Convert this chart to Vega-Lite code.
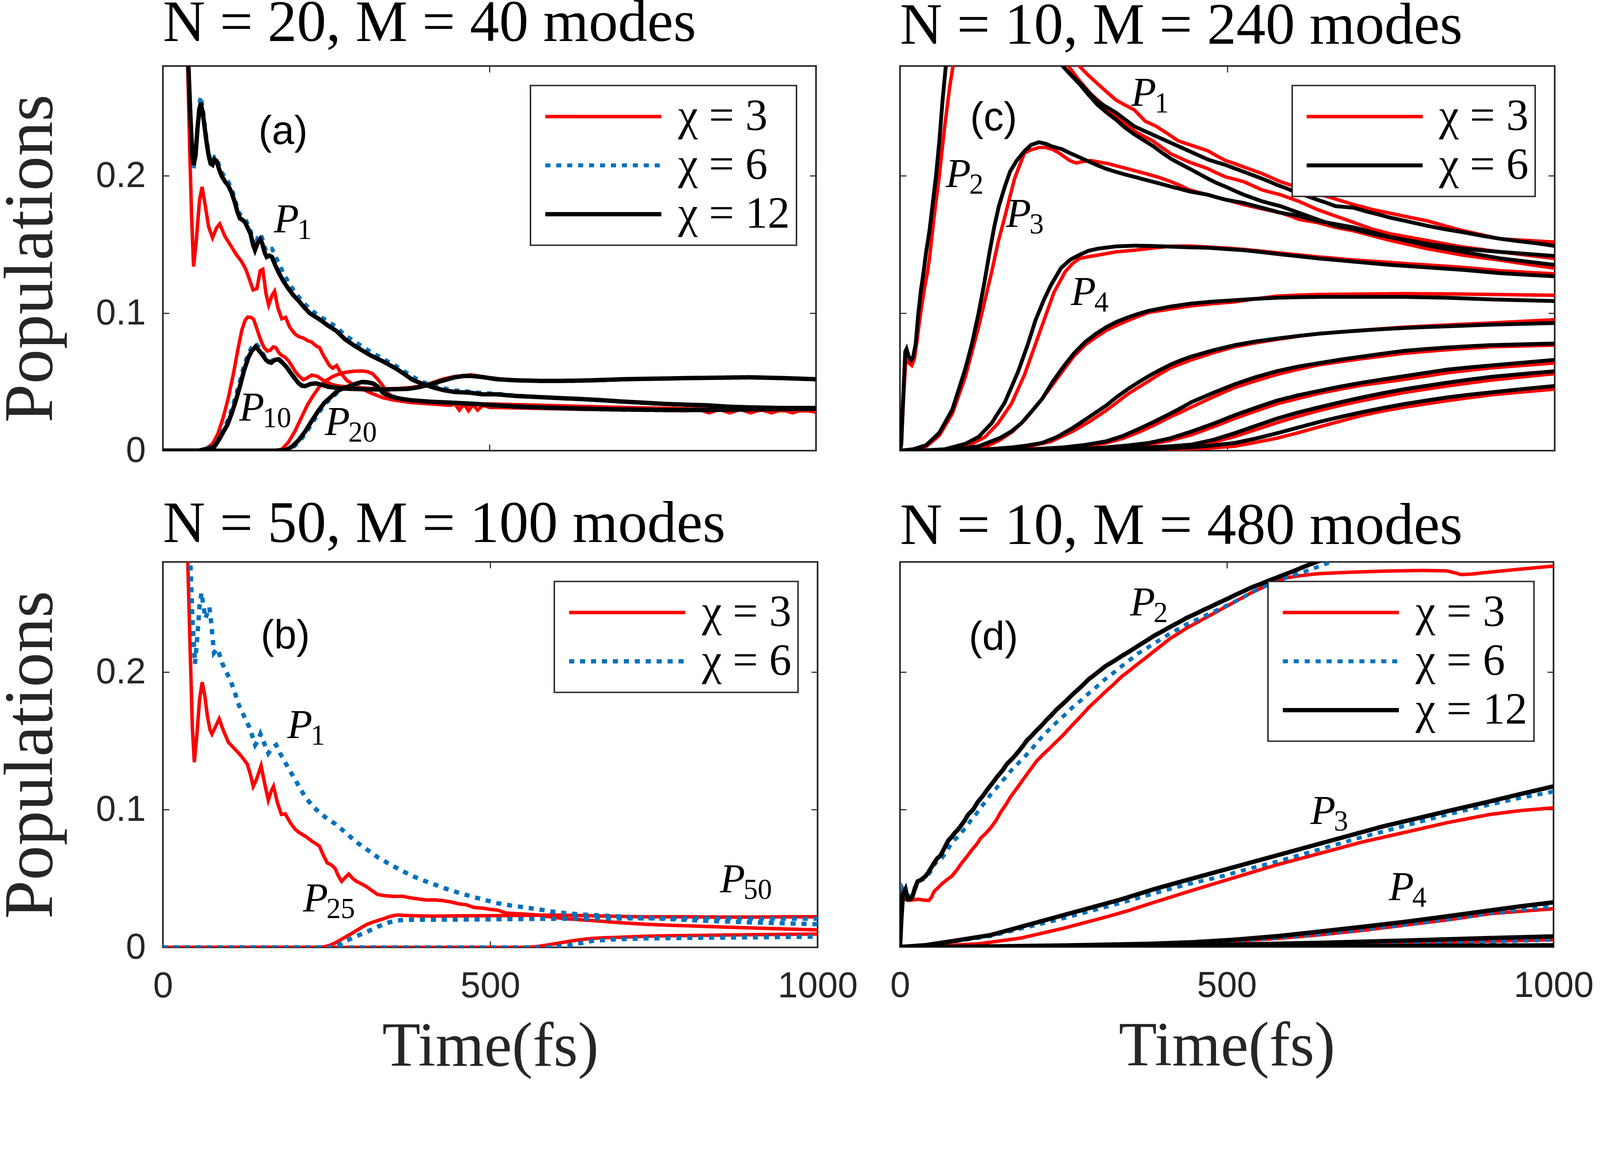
{
  "$schema": "https://vega.github.io/schema/vega-lite/v6.json",
  "background": "white",
  "padding": {"left": -12, "top": -18, "right": 0, "bottom": 0},
  "config": {
    "view": {"stroke": "#262626", "strokeWidth": 4.2},
    "axis": {"grid": false, "domain": false, "ticks": true, "tickSize": -16, "tickWidth": 2.8, "tickColor": "#262626", "labelFlush": false,
      "labelFont": "Liberation Sans", "labelFontSize": 92, "labelColor": "#262626", "labelLimit": 400,
      "titleFont": "Liberation Serif", "titleFontWeight": "normal", "titleColor": "#262626"},
    "axisX": {"labelPadding": 70, "titleFontSize": 160, "titlePadding": 31},
    "axisY": {"labelPadding": 60, "titleFontSize": 178, "titlePadding": 76},
    "title": {"font": "Liberation Serif", "fontSize": 150, "fontWeight": "normal", "anchor": "start", "frame": "group", "color": "#000000"},
    "legend": {"strokeWidth": 3.7}
  },
  "datasets": {
    "labs": [
      {"p": "a", "t": 170, "v": 0.159, "s": "1"},
      {"p": "a", "t": 117, "v": 0.022, "s": "10"},
      {"p": "a", "t": 248, "v": 0.0114, "s": "20"},
      {"p": "b", "t": 190, "v": 0.152, "s": "1"},
      {"p": "b", "t": 214, "v": 0.026, "s": "25"},
      {"p": "b", "t": 851, "v": 0.04, "s": "50"},
      {"p": "c", "t": 353, "v": 0.251, "s": "1"},
      {"p": "c", "t": 70, "v": 0.192, "s": "2"},
      {"p": "c", "t": 162, "v": 0.163, "s": "3"},
      {"p": "c", "t": 261, "v": 0.106, "s": "4"},
      {"p": "d", "t": 352, "v": 0.241, "s": "2"},
      {"p": "d", "t": 628, "v": 0.0894, "s": "3"},
      {"p": "d", "t": 748, "v": 0.034, "s": "4"}
    ],
    "tags": [
      {"p": "a", "t": 184, "v": 0.232, "txt": "(a)"},
      {"p": "b", "t": 187, "v": 0.226, "txt": "(b)"},
      {"p": "c", "t": 143, "v": 0.242, "txt": "(c)"},
      {"p": "d", "t": 143, "v": 0.225, "txt": "(d)"}
    ],
    "a": [
      {"k":"P1","c":3,"t":0,"v":1},{"k":"P1","c":3,"t":20,"v":0.55},{"k":"P1","c":3,"t":35,"v":0.33},{"k":"P1","c":3,"t":38,"v":0.28},{"k":"P1","c":3,"t":41,"v":0.22},{"k":"P1","c":3,"t":44,"v":0.17},{"k":"P1","c":3,"t":47,"v":0.134},{"k":"P1","c":3,"t":51,"v":0.152},{"k":"P1","c":3,"t":56,"v":0.182},{"k":"P1","c":3,"t":60,"v":0.192},{"k":"P1","c":3,"t":65,"v":0.178},{"k":"P1","c":3,"t":70,"v":0.163},{"k":"P1","c":3,"t":76,"v":0.155},{"k":"P1","c":3,"t":82,"v":0.162},{"k":"P1","c":3,"t":87,"v":0.165},{"k":"P1","c":3,"t":95,"v":0.156},{"k":"P1","c":3,"t":103,"v":0.15},{"k":"P1","c":3,"t":112,"v":0.143},{"k":"P1","c":3,"t":120,"v":0.138},{"k":"P1","c":3,"t":127,"v":0.132},{"k":"P1","c":3,"t":133,"v":0.124},{"k":"P1","c":3,"t":138,"v":0.117},{"k":"P1","c":3,"t":144,"v":0.118},{"k":"P1","c":3,"t":149,"v":0.131},{"k":"P1","c":3,"t":153,"v":0.132},{"k":"P1","c":3,"t":158,"v":0.114},{"k":"P1","c":3,"t":162,"v":0.106},{"k":"P1","c":3,"t":167,"v":0.113},{"k":"P1","c":3,"t":171,"v":0.116},{"k":"P1","c":3,"t":176,"v":0.104},{"k":"P1","c":3,"t":182,"v":0.096},{"k":"P1","c":3,"t":188,"v":0.097},{"k":"P1","c":3,"t":194,"v":0.09},{"k":"P1","c":3,"t":202,"v":0.085},{"k":"P1","c":3,"t":208,"v":0.083},{"k":"P1","c":3,"t":215,"v":0.082},{"k":"P1","c":3,"t":222,"v":0.08},{"k":"P1","c":3,"t":228,"v":0.079},{"k":"P1","c":3,"t":235,"v":0.076},{"k":"P1","c":3,"t":240,"v":0.075},{"k":"P1","c":3,"t":245,"v":0.07},{"k":"P1","c":3,"t":250,"v":0.066},{"k":"P1","c":3,"t":255,"v":0.062},{"k":"P1","c":3,"t":260,"v":0.06},{"k":"P1","c":3,"t":266,"v":0.062},{"k":"P1","c":3,"t":273,"v":0.056},{"k":"P1","c":3,"t":282,"v":0.051},{"k":"P1","c":3,"t":292,"v":0.048},{"k":"P1","c":3,"t":305,"v":0.045},{"k":"P1","c":3,"t":318,"v":0.042},{"k":"P1","c":3,"t":337,"v":0.0385},{"k":"P1","c":3,"t":356,"v":0.0366},{"k":"P1","c":3,"t":382,"v":0.035},{"k":"P1","c":3,"t":410,"v":0.0345},{"k":"P1","c":3,"t":440,"v":0.034},{"k":"P1","c":3,"t":470,"v":0.033},{"k":"P1","c":3,"t":500,"v":0.034},{"k":"P1","c":3,"t":540,"v":0.0335},{"k":"P1","c":3,"t":580,"v":0.033},{"k":"P1","c":3,"t":620,"v":0.0325},{"k":"P1","c":3,"t":660,"v":0.032},{"k":"P1","c":3,"t":700,"v":0.0315},{"k":"P1","c":3,"t":750,"v":0.031},{"k":"P1","c":3,"t":800,"v":0.0305},{"k":"P1","c":3,"t":850,"v":0.03},{"k":"P1","c":3,"t":900,"v":0.0295},{"k":"P1","c":3,"t":950,"v":0.029},{"k":"P1","c":3,"t":1000,"v":0.029},
      {"k":"P10","c":3,"t":0,"v":0},{"k":"P10","c":3,"t":55,"v":0},{"k":"P10","c":3,"t":60,"v":0.0005},{"k":"P10","c":3,"t":68,"v":0.002},{"k":"P10","c":3,"t":76,"v":0.005},{"k":"P10","c":3,"t":84,"v":0.012},{"k":"P10","c":3,"t":92,"v":0.0235},{"k":"P10","c":3,"t":100,"v":0.038},{"k":"P10","c":3,"t":108,"v":0.056},{"k":"P10","c":3,"t":115,"v":0.074},{"k":"P10","c":3,"t":121,"v":0.088},{"k":"P10","c":3,"t":126,"v":0.095},{"k":"P10","c":3,"t":130,"v":0.0973},{"k":"P10","c":3,"t":135,"v":0.097},{"k":"P10","c":3,"t":139,"v":0.0955},{"k":"P10","c":3,"t":143,"v":0.09},{"k":"P10","c":3,"t":147,"v":0.0843},{"k":"P10","c":3,"t":151,"v":0.079},{"k":"P10","c":3,"t":155,"v":0.075},{"k":"P10","c":3,"t":160,"v":0.0725},{"k":"P10","c":3,"t":164,"v":0.073},{"k":"P10","c":3,"t":169,"v":0.0755},{"k":"P10","c":3,"t":173,"v":0.075},{"k":"P10","c":3,"t":178,"v":0.071},{"k":"P10","c":3,"t":182,"v":0.0693},{"k":"P10","c":3,"t":187,"v":0.068},{"k":"P10","c":3,"t":192,"v":0.0656},{"k":"P10","c":3,"t":197,"v":0.062},{"k":"P10","c":3,"t":202,"v":0.058},{"k":"P10","c":3,"t":208,"v":0.0545},{"k":"P10","c":3,"t":215,"v":0.0516},{"k":"P10","c":3,"t":221,"v":0.053},{"k":"P10","c":3,"t":228,"v":0.055},{"k":"P10","c":3,"t":233,"v":0.0545},{"k":"P10","c":3,"t":237,"v":0.054},{"k":"P10","c":3,"t":243,"v":0.052},{"k":"P10","c":3,"t":250,"v":0.05},{"k":"P10","c":3,"t":260,"v":0.048},{"k":"P10","c":3,"t":270,"v":0.047},{"k":"P10","c":3,"t":285,"v":0.0463},{"k":"P10","c":3,"t":300,"v":0.0458},{"k":"P10","c":3,"t":320,"v":0.0452},{"k":"P10","c":3,"t":340,"v":0.045},{"k":"P10","c":3,"t":360,"v":0.0452},{"k":"P10","c":3,"t":380,"v":0.046},{"k":"P10","c":3,"t":395,"v":0.047},{"k":"P10","c":3,"t":410,"v":0.049},{"k":"P10","c":3,"t":428,"v":0.052},{"k":"P10","c":3,"t":447,"v":0.054},{"k":"P10","c":3,"t":472,"v":0.0552},{"k":"P10","c":3,"t":495,"v":0.0535},{"k":"P10","c":3,"t":520,"v":0.052},{"k":"P10","c":3,"t":560,"v":0.051},{"k":"P10","c":3,"t":600,"v":0.0508},{"k":"P10","c":3,"t":640,"v":0.051},{"k":"P10","c":3,"t":680,"v":0.0515},{"k":"P10","c":3,"t":720,"v":0.052},{"k":"P10","c":3,"t":770,"v":0.0525},{"k":"P10","c":3,"t":830,"v":0.053},{"k":"P10","c":3,"t":900,"v":0.0535},{"k":"P10","c":3,"t":950,"v":0.053},{"k":"P10","c":3,"t":1000,"v":0.052},
      {"k":"P20","c":3,"t":0,"v":0},{"k":"P20","c":3,"t":165,"v":0},{"k":"P20","c":3,"t":175,"v":0.0004},{"k":"P20","c":3,"t":182,"v":0.001},{"k":"P20","c":3,"t":192,"v":0.006},{"k":"P20","c":3,"t":202,"v":0.014},{"k":"P20","c":3,"t":211,"v":0.023},{"k":"P20","c":3,"t":221,"v":0.033},{"k":"P20","c":3,"t":230,"v":0.04},{"k":"P20","c":3,"t":240,"v":0.0468},{"k":"P20","c":3,"t":250,"v":0.051},{"k":"P20","c":3,"t":260,"v":0.054},{"k":"P20","c":3,"t":270,"v":0.0558},{"k":"P20","c":3,"t":279,"v":0.057},{"k":"P20","c":3,"t":292,"v":0.0578},{"k":"P20","c":3,"t":305,"v":0.058},{"k":"P20","c":3,"t":313,"v":0.0575},{"k":"P20","c":3,"t":321,"v":0.056},{"k":"P20","c":3,"t":329,"v":0.052},{"k":"P20","c":3,"t":337,"v":0.047},{"k":"P20","c":3,"t":344,"v":0.042},{"k":"P20","c":3,"t":352,"v":0.039},{"k":"P20","c":3,"t":360,"v":0.037},{"k":"P20","c":3,"t":370,"v":0.0358},{"k":"P20","c":3,"t":382,"v":0.035},{"k":"P20","c":3,"t":395,"v":0.0345},{"k":"P20","c":3,"t":410,"v":0.034},{"k":"P20","c":3,"t":425,"v":0.0335},{"k":"P20","c":3,"t":440,"v":0.033},{"k":"P20","c":3,"t":447,"v":0.034},{"k":"P20","c":3,"t":454,"v":0.0295},{"k":"P20","c":3,"t":461,"v":0.034},{"k":"P20","c":3,"t":468,"v":0.029},{"k":"P20","c":3,"t":475,"v":0.0335},{"k":"P20","c":3,"t":482,"v":0.0295},{"k":"P20","c":3,"t":490,"v":0.033},{"k":"P20","c":3,"t":500,"v":0.0315},{"k":"P20","c":3,"t":550,"v":0.031},{"k":"P20","c":3,"t":600,"v":0.0305},{"k":"P20","c":3,"t":650,"v":0.03},{"k":"P20","c":3,"t":700,"v":0.0298},{"k":"P20","c":3,"t":750,"v":0.0295},{"k":"P20","c":3,"t":800,"v":0.029},{"k":"P20","c":3,"t":820,"v":0.0301},{"k":"P20","c":3,"t":836,"v":0.0275},{"k":"P20","c":3,"t":852,"v":0.03},{"k":"P20","c":3,"t":868,"v":0.0275},{"k":"P20","c":3,"t":884,"v":0.03},{"k":"P20","c":3,"t":900,"v":0.0275},{"k":"P20","c":3,"t":916,"v":0.0298},{"k":"P20","c":3,"t":932,"v":0.0275},{"k":"P20","c":3,"t":948,"v":0.0298},{"k":"P20","c":3,"t":964,"v":0.0275},{"k":"P20","c":3,"t":980,"v":0.0298},{"k":"P20","c":3,"t":1000,"v":0.028},
      {"k":"P1","c":6,"t":0,"v":1},{"k":"P1","c":6,"t":20,"v":0.56},{"k":"P1","c":6,"t":35,"v":0.335},{"k":"P1","c":6,"t":39,"v":0.285},{"k":"P1","c":6,"t":42,"v":0.245},{"k":"P1","c":6,"t":45,"v":0.213},{"k":"P1","c":6,"t":47,"v":0.205},{"k":"P1","c":6,"t":50,"v":0.214},{"k":"P1","c":6,"t":53,"v":0.236},{"k":"P1","c":6,"t":56,"v":0.253},{"k":"P1","c":6,"t":58,"v":0.258},{"k":"P1","c":6,"t":61,"v":0.25},{"k":"P1","c":6,"t":64,"v":0.238},{"k":"P1","c":6,"t":67,"v":0.227},{"k":"P1","c":6,"t":70,"v":0.217},{"k":"P1","c":6,"t":73,"v":0.211},{"k":"P1","c":6,"t":76,"v":0.21},{"k":"P1","c":6,"t":79,"v":0.214},{"k":"P1","c":6,"t":82,"v":0.214},{"k":"P1","c":6,"t":86,"v":0.208},{"k":"P1","c":6,"t":90,"v":0.203},{"k":"P1","c":6,"t":95,"v":0.199},{"k":"P1","c":6,"t":100,"v":0.196},{"k":"P1","c":6,"t":105,"v":0.191},{"k":"P1","c":6,"t":110,"v":0.184},{"k":"P1","c":6,"t":114,"v":0.177},{"k":"P1","c":6,"t":118,"v":0.172},{"k":"P1","c":6,"t":122,"v":0.171},{"k":"P1","c":6,"t":126,"v":0.169},{"k":"P1","c":6,"t":130,"v":0.165},{"k":"P1","c":6,"t":134,"v":0.161},{"k":"P1","c":6,"t":138,"v":0.153},{"k":"P1","c":6,"t":141,"v":0.149},{"k":"P1","c":6,"t":145,"v":0.155},{"k":"P1","c":6,"t":149,"v":0.158},{"k":"P1","c":6,"t":152,"v":0.155},{"k":"P1","c":6,"t":156,"v":0.148},{"k":"P1","c":6,"t":159,"v":0.145},{"k":"P1","c":6,"t":163,"v":0.147},{"k":"P1","c":6,"t":167,"v":0.147},{"k":"P1","c":6,"t":172,"v":0.142},{"k":"P1","c":6,"t":178,"v":0.136},{"k":"P1","c":6,"t":185,"v":0.129},{"k":"P1","c":6,"t":192,"v":0.123},{"k":"P1","c":6,"t":200,"v":0.117},{"k":"P1","c":6,"t":208,"v":0.112},{"k":"P1","c":6,"t":215,"v":0.108},{"k":"P1","c":6,"t":225,"v":0.103},{"k":"P1","c":6,"t":240,"v":0.098},{"k":"P1","c":6,"t":253,"v":0.094},{"k":"P1","c":6,"t":266,"v":0.09},{"k":"P1","c":6,"t":279,"v":0.084},{"k":"P1","c":6,"t":292,"v":0.08},{"k":"P1","c":6,"t":305,"v":0.076},{"k":"P1","c":6,"t":318,"v":0.072},{"k":"P1","c":6,"t":337,"v":0.067},{"k":"P1","c":6,"t":356,"v":0.062},{"k":"P1","c":6,"t":369,"v":0.058},{"k":"P1","c":6,"t":382,"v":0.054},{"k":"P1","c":6,"t":398,"v":0.05},{"k":"P1","c":6,"t":414,"v":0.0475},{"k":"P1","c":6,"t":430,"v":0.0455},{"k":"P1","c":6,"t":447,"v":0.044},{"k":"P1","c":6,"t":470,"v":0.043},{"k":"P1","c":6,"t":490,"v":0.042},{"k":"P1","c":6,"t":511,"v":0.0415},{"k":"P1","c":6,"t":540,"v":0.0402},{"k":"P1","c":6,"t":576,"v":0.039},{"k":"P1","c":6,"t":610,"v":0.038},{"k":"P1","c":6,"t":640,"v":0.0374},{"k":"P1","c":6,"t":670,"v":0.0366},{"k":"P1","c":6,"t":705,"v":0.0355},{"k":"P1","c":6,"t":740,"v":0.0346},{"k":"P1","c":6,"t":769,"v":0.0338},{"k":"P1","c":6,"t":800,"v":0.0332},{"k":"P1","c":6,"t":834,"v":0.0326},{"k":"P1","c":6,"t":866,"v":0.0318},{"k":"P1","c":6,"t":898,"v":0.0312},{"k":"P1","c":6,"t":950,"v":0.0308},{"k":"P1","c":6,"t":1000,"v":0.0305},
      {"k":"P10","c":6,"t":0,"v":0},{"k":"P10","c":6,"t":55,"v":0},{"k":"P10","c":6,"t":62,"v":0.001},{"k":"P10","c":6,"t":70,"v":0.002},{"k":"P10","c":6,"t":79,"v":0.004},{"k":"P10","c":6,"t":86,"v":0.009},{"k":"P10","c":6,"t":93,"v":0.016},{"k":"P10","c":6,"t":99,"v":0.022},{"k":"P10","c":6,"t":106,"v":0.031},{"k":"P10","c":6,"t":112,"v":0.041},{"k":"P10","c":6,"t":118,"v":0.051},{"k":"P10","c":6,"t":124,"v":0.062},{"k":"P10","c":6,"t":131,"v":0.071},{"k":"P10","c":6,"t":136,"v":0.0755},{"k":"P10","c":6,"t":142,"v":0.0782},{"k":"P10","c":6,"t":147,"v":0.0755},{"k":"P10","c":6,"t":153,"v":0.071},{"k":"P10","c":6,"t":158,"v":0.067},{"k":"P10","c":6,"t":162,"v":0.0655},{"k":"P10","c":6,"t":166,"v":0.065},{"k":"P10","c":6,"t":171,"v":0.0672},{"k":"P10","c":6,"t":177,"v":0.0672},{"k":"P10","c":6,"t":183,"v":0.0645},{"k":"P10","c":6,"t":189,"v":0.0615},{"k":"P10","c":6,"t":195,"v":0.0575},{"k":"P10","c":6,"t":202,"v":0.053},{"k":"P10","c":6,"t":208,"v":0.0495},{"k":"P10","c":6,"t":213,"v":0.0475},{"k":"P10","c":6,"t":218,"v":0.0472},{"k":"P10","c":6,"t":226,"v":0.0488},{"k":"P10","c":6,"t":234,"v":0.0492},{"k":"P10","c":6,"t":243,"v":0.0482},{"k":"P10","c":6,"t":253,"v":0.0468},{"k":"P10","c":6,"t":270,"v":0.0458},{"k":"P10","c":6,"t":286,"v":0.0452},{"k":"P10","c":6,"t":300,"v":0.0448},{"k":"P10","c":6,"t":318,"v":0.0445},{"k":"P10","c":6,"t":340,"v":0.0444},{"k":"P10","c":6,"t":360,"v":0.0447},{"k":"P10","c":6,"t":376,"v":0.045},{"k":"P10","c":6,"t":392,"v":0.0463},{"k":"P10","c":6,"t":408,"v":0.0482},{"k":"P10","c":6,"t":425,"v":0.0508},{"k":"P10","c":6,"t":447,"v":0.0536},{"k":"P10","c":6,"t":460,"v":0.0545},{"k":"P10","c":6,"t":472,"v":0.0545},{"k":"P10","c":6,"t":490,"v":0.0535},{"k":"P10","c":6,"t":511,"v":0.052},{"k":"P10","c":6,"t":540,"v":0.0512},{"k":"P10","c":6,"t":576,"v":0.0508},{"k":"P10","c":6,"t":610,"v":0.0506},{"k":"P10","c":6,"t":640,"v":0.0508},{"k":"P10","c":6,"t":670,"v":0.0512},{"k":"P10","c":6,"t":705,"v":0.0518},{"k":"P10","c":6,"t":740,"v":0.0522},{"k":"P10","c":6,"t":769,"v":0.0524},{"k":"P10","c":6,"t":800,"v":0.0527},{"k":"P10","c":6,"t":834,"v":0.0529},{"k":"P10","c":6,"t":866,"v":0.0531},{"k":"P10","c":6,"t":898,"v":0.0533},{"k":"P10","c":6,"t":950,"v":0.0527},{"k":"P10","c":6,"t":1000,"v":0.0519},
      {"k":"P20","c":6,"t":0,"v":0},{"k":"P20","c":6,"t":178,"v":0},{"k":"P20","c":6,"t":186,"v":0.0003},{"k":"P20","c":6,"t":192,"v":0.0006},{"k":"P20","c":6,"t":201,"v":0.003},{"k":"P20","c":6,"t":211,"v":0.0077},{"k":"P20","c":6,"t":221,"v":0.014},{"k":"P20","c":6,"t":231,"v":0.0217},{"k":"P20","c":6,"t":241,"v":0.029},{"k":"P20","c":6,"t":250,"v":0.0347},{"k":"P20","c":6,"t":260,"v":0.039},{"k":"P20","c":6,"t":269,"v":0.043},{"k":"P20","c":6,"t":279,"v":0.0455},{"k":"P20","c":6,"t":289,"v":0.047},{"k":"P20","c":6,"t":299,"v":0.0485},{"k":"P20","c":6,"t":308,"v":0.0495},{"k":"P20","c":6,"t":316,"v":0.0495},{"k":"P20","c":6,"t":324,"v":0.0485},{"k":"P20","c":6,"t":332,"v":0.046},{"k":"P20","c":6,"t":340,"v":0.042},{"k":"P20","c":6,"t":349,"v":0.04},{"k":"P20","c":6,"t":359,"v":0.0385},{"k":"P20","c":6,"t":372,"v":0.0373},{"k":"P20","c":6,"t":385,"v":0.0365},{"k":"P20","c":6,"t":410,"v":0.0356},{"k":"P20","c":6,"t":447,"v":0.0347},{"k":"P20","c":6,"t":480,"v":0.0338},{"k":"P20","c":6,"t":511,"v":0.0328},{"k":"P20","c":6,"t":545,"v":0.0318},{"k":"P20","c":6,"t":576,"v":0.0312},{"k":"P20","c":6,"t":610,"v":0.0307},{"k":"P20","c":6,"t":640,"v":0.0303},{"k":"P20","c":6,"t":700,"v":0.0297},{"k":"P20","c":6,"t":769,"v":0.0294},{"k":"P20","c":6,"t":834,"v":0.0295},{"k":"P20","c":6,"t":898,"v":0.0298},{"k":"P20","c":6,"t":950,"v":0.0301},{"k":"P20","c":6,"t":1000,"v":0.0303},
      {"k":"P1","c":12,"t":0,"v":1},{"k":"P1","c":12,"t":20,"v":0.56},{"k":"P1","c":12,"t":35,"v":0.33},{"k":"P1","c":12,"t":39,"v":0.28},{"k":"P1","c":12,"t":42,"v":0.245},{"k":"P1","c":12,"t":45,"v":0.215},{"k":"P1","c":12,"t":47,"v":0.208},{"k":"P1","c":12,"t":50,"v":0.215},{"k":"P1","c":12,"t":53,"v":0.235},{"k":"P1","c":12,"t":56,"v":0.249},{"k":"P1","c":12,"t":58,"v":0.253},{"k":"P1","c":12,"t":61,"v":0.246},{"k":"P1","c":12,"t":64,"v":0.235},{"k":"P1","c":12,"t":67,"v":0.224},{"k":"P1","c":12,"t":70,"v":0.215},{"k":"P1","c":12,"t":73,"v":0.209},{"k":"P1","c":12,"t":76,"v":0.208},{"k":"P1","c":12,"t":79,"v":0.212},{"k":"P1","c":12,"t":82,"v":0.211},{"k":"P1","c":12,"t":86,"v":0.205},{"k":"P1","c":12,"t":90,"v":0.2},{"k":"P1","c":12,"t":95,"v":0.196},{"k":"P1","c":12,"t":100,"v":0.193},{"k":"P1","c":12,"t":105,"v":0.188},{"k":"P1","c":12,"t":110,"v":0.181},{"k":"P1","c":12,"t":114,"v":0.174},{"k":"P1","c":12,"t":118,"v":0.169},{"k":"P1","c":12,"t":122,"v":0.168},{"k":"P1","c":12,"t":126,"v":0.166},{"k":"P1","c":12,"t":130,"v":0.162},{"k":"P1","c":12,"t":134,"v":0.158},{"k":"P1","c":12,"t":138,"v":0.15},{"k":"P1","c":12,"t":141,"v":0.146},{"k":"P1","c":12,"t":145,"v":0.151},{"k":"P1","c":12,"t":149,"v":0.154},{"k":"P1","c":12,"t":152,"v":0.151},{"k":"P1","c":12,"t":156,"v":0.144},{"k":"P1","c":12,"t":159,"v":0.141},{"k":"P1","c":12,"t":163,"v":0.142},{"k":"P1","c":12,"t":167,"v":0.141},{"k":"P1","c":12,"t":172,"v":0.135},{"k":"P1","c":12,"t":178,"v":0.129},{"k":"P1","c":12,"t":185,"v":0.123},{"k":"P1","c":12,"t":192,"v":0.118},{"k":"P1","c":12,"t":200,"v":0.113},{"k":"P1","c":12,"t":208,"v":0.109},{"k":"P1","c":12,"t":215,"v":0.105},{"k":"P1","c":12,"t":225,"v":0.1},{"k":"P1","c":12,"t":240,"v":0.0955},{"k":"P1","c":12,"t":253,"v":0.091},{"k":"P1","c":12,"t":266,"v":0.087},{"k":"P1","c":12,"t":279,"v":0.081},{"k":"P1","c":12,"t":292,"v":0.0768},{"k":"P1","c":12,"t":305,"v":0.073},{"k":"P1","c":12,"t":318,"v":0.0693},{"k":"P1","c":12,"t":337,"v":0.065},{"k":"P1","c":12,"t":356,"v":0.06},{"k":"P1","c":12,"t":369,"v":0.056},{"k":"P1","c":12,"t":382,"v":0.0516},{"k":"P1","c":12,"t":398,"v":0.0485},{"k":"P1","c":12,"t":414,"v":0.046},{"k":"P1","c":12,"t":430,"v":0.044},{"k":"P1","c":12,"t":447,"v":0.0427},{"k":"P1","c":12,"t":470,"v":0.0422},{"k":"P1","c":12,"t":490,"v":0.041},{"k":"P1","c":12,"t":511,"v":0.041},{"k":"P1","c":12,"t":540,"v":0.0398},{"k":"P1","c":12,"t":576,"v":0.039},{"k":"P1","c":12,"t":610,"v":0.0382},{"k":"P1","c":12,"t":640,"v":0.0376},{"k":"P1","c":12,"t":670,"v":0.0368},{"k":"P1","c":12,"t":705,"v":0.0357},{"k":"P1","c":12,"t":740,"v":0.0348},{"k":"P1","c":12,"t":769,"v":0.034},{"k":"P1","c":12,"t":800,"v":0.0335},{"k":"P1","c":12,"t":834,"v":0.033},{"k":"P1","c":12,"t":866,"v":0.032},{"k":"P1","c":12,"t":898,"v":0.0315},{"k":"P1","c":12,"t":950,"v":0.031},{"k":"P1","c":12,"t":1000,"v":0.031},
      {"k":"P10","c":12,"t":0,"v":0},{"k":"P10","c":12,"t":55,"v":0},{"k":"P10","c":12,"t":62,"v":0.0008},{"k":"P10","c":12,"t":70,"v":0.0015},{"k":"P10","c":12,"t":79,"v":0.003},{"k":"P10","c":12,"t":86,"v":0.008},{"k":"P10","c":12,"t":93,"v":0.014},{"k":"P10","c":12,"t":99,"v":0.019},{"k":"P10","c":12,"t":106,"v":0.028},{"k":"P10","c":12,"t":112,"v":0.037},{"k":"P10","c":12,"t":118,"v":0.047},{"k":"P10","c":12,"t":124,"v":0.058},{"k":"P10","c":12,"t":131,"v":0.068},{"k":"P10","c":12,"t":136,"v":0.0725},{"k":"P10","c":12,"t":142,"v":0.0758},{"k":"P10","c":12,"t":147,"v":0.073},{"k":"P10","c":12,"t":153,"v":0.0693},{"k":"P10","c":12,"t":158,"v":0.066},{"k":"P10","c":12,"t":162,"v":0.0645},{"k":"P10","c":12,"t":166,"v":0.064},{"k":"P10","c":12,"t":171,"v":0.066},{"k":"P10","c":12,"t":177,"v":0.0665},{"k":"P10","c":12,"t":183,"v":0.064},{"k":"P10","c":12,"t":189,"v":0.061},{"k":"P10","c":12,"t":195,"v":0.057},{"k":"P10","c":12,"t":202,"v":0.0525},{"k":"P10","c":12,"t":208,"v":0.049},{"k":"P10","c":12,"t":213,"v":0.0472},{"k":"P10","c":12,"t":218,"v":0.047},{"k":"P10","c":12,"t":226,"v":0.0485},{"k":"P10","c":12,"t":234,"v":0.049},{"k":"P10","c":12,"t":243,"v":0.048},{"k":"P10","c":12,"t":253,"v":0.0465},{"k":"P10","c":12,"t":270,"v":0.0455},{"k":"P10","c":12,"t":286,"v":0.045},{"k":"P10","c":12,"t":300,"v":0.0448},{"k":"P10","c":12,"t":318,"v":0.0446},{"k":"P10","c":12,"t":340,"v":0.0446},{"k":"P10","c":12,"t":360,"v":0.0448},{"k":"P10","c":12,"t":376,"v":0.045},{"k":"P10","c":12,"t":392,"v":0.0462},{"k":"P10","c":12,"t":408,"v":0.048},{"k":"P10","c":12,"t":425,"v":0.0505},{"k":"P10","c":12,"t":447,"v":0.0534},{"k":"P10","c":12,"t":460,"v":0.0543},{"k":"P10","c":12,"t":472,"v":0.0544},{"k":"P10","c":12,"t":490,"v":0.0535},{"k":"P10","c":12,"t":511,"v":0.052},{"k":"P10","c":12,"t":540,"v":0.0512},{"k":"P10","c":12,"t":576,"v":0.0508},{"k":"P10","c":12,"t":610,"v":0.0508},{"k":"P10","c":12,"t":640,"v":0.051},{"k":"P10","c":12,"t":670,"v":0.0514},{"k":"P10","c":12,"t":705,"v":0.052},{"k":"P10","c":12,"t":740,"v":0.0523},{"k":"P10","c":12,"t":769,"v":0.0525},{"k":"P10","c":12,"t":800,"v":0.0528},{"k":"P10","c":12,"t":834,"v":0.053},{"k":"P10","c":12,"t":866,"v":0.0532},{"k":"P10","c":12,"t":898,"v":0.0534},{"k":"P10","c":12,"t":950,"v":0.0528},{"k":"P10","c":12,"t":1000,"v":0.052},
      {"k":"P20","c":12,"t":0,"v":0},{"k":"P20","c":12,"t":175,"v":0},{"k":"P20","c":12,"t":183,"v":0.0003},{"k":"P20","c":12,"t":189,"v":0.0006},{"k":"P20","c":12,"t":198,"v":0.003},{"k":"P20","c":12,"t":208,"v":0.0077},{"k":"P20","c":12,"t":218,"v":0.014},{"k":"P20","c":12,"t":228,"v":0.0217},{"k":"P20","c":12,"t":238,"v":0.029},{"k":"P20","c":12,"t":247,"v":0.0347},{"k":"P20","c":12,"t":257,"v":0.039},{"k":"P20","c":12,"t":266,"v":0.043},{"k":"P20","c":12,"t":276,"v":0.0455},{"k":"P20","c":12,"t":286,"v":0.047},{"k":"P20","c":12,"t":296,"v":0.0488},{"k":"P20","c":12,"t":305,"v":0.05},{"k":"P20","c":12,"t":313,"v":0.0498},{"k":"P20","c":12,"t":321,"v":0.049},{"k":"P20","c":12,"t":329,"v":0.0465},{"k":"P20","c":12,"t":337,"v":0.042},{"k":"P20","c":12,"t":346,"v":0.04},{"k":"P20","c":12,"t":356,"v":0.0385},{"k":"P20","c":12,"t":369,"v":0.0374},{"k":"P20","c":12,"t":382,"v":0.0366},{"k":"P20","c":12,"t":410,"v":0.0356},{"k":"P20","c":12,"t":447,"v":0.0348},{"k":"P20","c":12,"t":480,"v":0.034},{"k":"P20","c":12,"t":511,"v":0.033},{"k":"P20","c":12,"t":545,"v":0.032},{"k":"P20","c":12,"t":576,"v":0.0315},{"k":"P20","c":12,"t":610,"v":0.031},{"k":"P20","c":12,"t":640,"v":0.0306},{"k":"P20","c":12,"t":700,"v":0.03},{"k":"P20","c":12,"t":769,"v":0.0296},{"k":"P20","c":12,"t":834,"v":0.0296},{"k":"P20","c":12,"t":898,"v":0.03},{"k":"P20","c":12,"t":950,"v":0.0303},{"k":"P20","c":12,"t":1000,"v":0.0306}
    ],
    "b": [
      {"k":"P1","c":3,"t":0,"v":1},{"k":"P1","c":3,"t":20,"v":0.5},{"k":"P1","c":3,"t":35,"v":0.32},{"k":"P1","c":3,"t":38,"v":0.28},{"k":"P1","c":3,"t":42,"v":0.21},{"k":"P1","c":3,"t":45,"v":0.16},{"k":"P1","c":3,"t":48,"v":0.1345},{"k":"P1","c":3,"t":52,"v":0.155},{"k":"P1","c":3,"t":56,"v":0.18},{"k":"P1","c":3,"t":60,"v":0.1927},{"k":"P1","c":3,"t":64,"v":0.183},{"k":"P1","c":3,"t":68,"v":0.168},{"k":"P1","c":3,"t":72,"v":0.158},{"k":"P1","c":3,"t":75,"v":0.155},{"k":"P1","c":3,"t":80,"v":0.16},{"k":"P1","c":3,"t":86,"v":0.166},{"k":"P1","c":3,"t":92,"v":0.158},{"k":"P1","c":3,"t":100,"v":0.149},{"k":"P1","c":3,"t":108,"v":0.145},{"k":"P1","c":3,"t":116,"v":0.141},{"k":"P1","c":3,"t":123,"v":0.137},{"k":"P1","c":3,"t":129,"v":0.133},{"k":"P1","c":3,"t":134,"v":0.125},{"k":"P1","c":3,"t":138,"v":0.117},{"k":"P1","c":3,"t":143,"v":0.122},{"k":"P1","c":3,"t":150,"v":0.132},{"k":"P1","c":3,"t":155,"v":0.12},{"k":"P1","c":3,"t":161,"v":0.107},{"k":"P1","c":3,"t":165,"v":0.113},{"k":"P1","c":3,"t":169,"v":0.117},{"k":"P1","c":3,"t":175,"v":0.105},{"k":"P1","c":3,"t":181,"v":0.0966},{"k":"P1","c":3,"t":187,"v":0.097},{"k":"P1","c":3,"t":194,"v":0.091},{"k":"P1","c":3,"t":202,"v":0.0858},{"k":"P1","c":3,"t":208,"v":0.0835},{"k":"P1","c":3,"t":214,"v":0.0817},{"k":"P1","c":3,"t":220,"v":0.08},{"k":"P1","c":3,"t":226,"v":0.0777},{"k":"P1","c":3,"t":233,"v":0.0755},{"k":"P1","c":3,"t":239,"v":0.0736},{"k":"P1","c":3,"t":245,"v":0.067},{"k":"P1","c":3,"t":251,"v":0.0614},{"k":"P1","c":3,"t":257,"v":0.06},{"k":"P1","c":3,"t":263,"v":0.0574},{"k":"P1","c":3,"t":268,"v":0.052},{"k":"P1","c":3,"t":273,"v":0.0479},{"k":"P1","c":3,"t":279,"v":0.051},{"k":"P1","c":3,"t":284,"v":0.0533},{"k":"P1","c":3,"t":290,"v":0.05},{"k":"P1","c":3,"t":296,"v":0.0479},{"k":"P1","c":3,"t":304,"v":0.046},{"k":"P1","c":3,"t":312,"v":0.0438},{"k":"P1","c":3,"t":320,"v":0.041},{"k":"P1","c":3,"t":328,"v":0.0384},{"k":"P1","c":3,"t":340,"v":0.0375},{"k":"P1","c":3,"t":353,"v":0.037},{"k":"P1","c":3,"t":365,"v":0.0372},{"k":"P1","c":3,"t":378,"v":0.036},{"k":"P1","c":3,"t":390,"v":0.0352},{"k":"P1","c":3,"t":402,"v":0.0344},{"k":"P1","c":3,"t":415,"v":0.0345},{"k":"P1","c":3,"t":427,"v":0.034},{"k":"P1","c":3,"t":440,"v":0.033},{"k":"P1","c":3,"t":451,"v":0.0317},{"k":"P1","c":3,"t":463,"v":0.031},{"k":"P1","c":3,"t":475,"v":0.029},{"k":"P1","c":3,"t":488,"v":0.0285},{"k":"P1","c":3,"t":500,"v":0.0276},{"k":"P1","c":3,"t":512,"v":0.027},{"k":"P1","c":3,"t":524,"v":0.0249},{"k":"P1","c":3,"t":540,"v":0.0245},{"k":"P1","c":3,"t":557,"v":0.024},{"k":"P1","c":3,"t":573,"v":0.0235},{"k":"P1","c":3,"t":594,"v":0.022},{"k":"P1","c":3,"t":614,"v":0.0208},{"k":"P1","c":3,"t":635,"v":0.0202},{"k":"P1","c":3,"t":655,"v":0.0195},{"k":"P1","c":3,"t":696,"v":0.018},{"k":"P1","c":3,"t":737,"v":0.0168},{"k":"P1","c":3,"t":778,"v":0.016},{"k":"P1","c":3,"t":819,"v":0.0154},{"k":"P1","c":3,"t":860,"v":0.0147},{"k":"P1","c":3,"t":900,"v":0.0141},{"k":"P1","c":3,"t":950,"v":0.0134},{"k":"P1","c":3,"t":1000,"v":0.0127},
      {"k":"P25","c":3,"t":0,"v":0},{"k":"P25","c":3,"t":240,"v":0},{"k":"P25","c":3,"t":247,"v":0.0005},{"k":"P25","c":3,"t":255,"v":0.0015},{"k":"P25","c":3,"t":263,"v":0.0032},{"k":"P25","c":3,"t":275,"v":0.0065},{"k":"P25","c":3,"t":288,"v":0.01},{"k":"P25","c":3,"t":300,"v":0.0135},{"k":"P25","c":3,"t":312,"v":0.0168},{"k":"P25","c":3,"t":325,"v":0.019},{"k":"P25","c":3,"t":337,"v":0.0208},{"k":"P25","c":3,"t":347,"v":0.0225},{"k":"P25","c":3,"t":357,"v":0.0235},{"k":"P25","c":3,"t":380,"v":0.023},{"k":"P25","c":3,"t":410,"v":0.0227},{"k":"P25","c":3,"t":450,"v":0.0229},{"k":"P25","c":3,"t":500,"v":0.023},{"k":"P25","c":3,"t":550,"v":0.0232},{"k":"P25","c":3,"t":600,"v":0.0235},{"k":"P25","c":3,"t":650,"v":0.023},{"k":"P25","c":3,"t":700,"v":0.0225},{"k":"P25","c":3,"t":737,"v":0.0222},{"k":"P25","c":3,"t":800,"v":0.0222},{"k":"P25","c":3,"t":850,"v":0.022},{"k":"P25","c":3,"t":900,"v":0.022},{"k":"P25","c":3,"t":950,"v":0.0222},{"k":"P25","c":3,"t":1000,"v":0.0222},
      {"k":"P50","c":3,"t":0,"v":0},{"k":"P50","c":3,"t":555,"v":0},{"k":"P50","c":3,"t":570,"v":0.0005},{"k":"P50","c":3,"t":590,"v":0.0019},{"k":"P50","c":3,"t":606,"v":0.0032},{"k":"P50","c":3,"t":623,"v":0.0046},{"k":"P50","c":3,"t":640,"v":0.0057},{"k":"P50","c":3,"t":655,"v":0.0065},{"k":"P50","c":3,"t":675,"v":0.007},{"k":"P50","c":3,"t":696,"v":0.0073},{"k":"P50","c":3,"t":737,"v":0.0081},{"k":"P50","c":3,"t":780,"v":0.0085},{"k":"P50","c":3,"t":819,"v":0.0087},{"k":"P50","c":3,"t":900,"v":0.0092},{"k":"P50","c":3,"t":1000,"v":0.0097},
      {"k":"P1","c":6,"t":0,"v":1},{"k":"P1","c":6,"t":20,"v":0.6},{"k":"P1","c":6,"t":38,"v":0.31},{"k":"P1","c":6,"t":42,"v":0.28},{"k":"P1","c":6,"t":45,"v":0.24},{"k":"P1","c":6,"t":49,"v":0.206},{"k":"P1","c":6,"t":52,"v":0.222},{"k":"P1","c":6,"t":56,"v":0.248},{"k":"P1","c":6,"t":59,"v":0.2577},{"k":"P1","c":6,"t":62,"v":0.248},{"k":"P1","c":6,"t":65,"v":0.239},{"k":"P1","c":6,"t":68,"v":0.243},{"k":"P1","c":6,"t":71,"v":0.247},{"k":"P1","c":6,"t":74,"v":0.235},{"k":"P1","c":6,"t":78,"v":0.214},{"k":"P1","c":6,"t":83,"v":0.217},{"k":"P1","c":6,"t":87,"v":0.212},{"k":"P1","c":6,"t":91,"v":0.206},{"k":"P1","c":6,"t":97,"v":0.2},{"k":"P1","c":6,"t":104,"v":0.193},{"k":"P1","c":6,"t":110,"v":0.185},{"k":"P1","c":6,"t":116,"v":0.176},{"k":"P1","c":6,"t":124,"v":0.168},{"k":"P1","c":6,"t":132,"v":0.16},{"k":"P1","c":6,"t":137,"v":0.153},{"k":"P1","c":6,"t":141,"v":0.147},{"k":"P1","c":6,"t":145,"v":0.15},{"k":"P1","c":6,"t":149,"v":0.155},{"k":"P1","c":6,"t":155,"v":0.148},{"k":"P1","c":6,"t":161,"v":0.141},{"k":"P1","c":6,"t":167,"v":0.145},{"k":"P1","c":6,"t":173,"v":0.147},{"k":"P1","c":6,"t":179,"v":0.141},{"k":"P1","c":6,"t":185,"v":0.136},{"k":"P1","c":6,"t":193,"v":0.129},{"k":"P1","c":6,"t":202,"v":0.122},{"k":"P1","c":6,"t":210,"v":0.115},{"k":"P1","c":6,"t":218,"v":0.109},{"k":"P1","c":6,"t":228,"v":0.103},{"k":"P1","c":6,"t":239,"v":0.098},{"k":"P1","c":6,"t":251,"v":0.0935},{"k":"P1","c":6,"t":263,"v":0.0898},{"k":"P1","c":6,"t":280,"v":0.083},{"k":"P1","c":6,"t":296,"v":0.0763},{"k":"P1","c":6,"t":312,"v":0.071},{"k":"P1","c":6,"t":328,"v":0.0655},{"k":"P1","c":6,"t":348,"v":0.06},{"k":"P1","c":6,"t":369,"v":0.0547},{"k":"P1","c":6,"t":390,"v":0.05},{"k":"P1","c":6,"t":410,"v":0.0465},{"k":"P1","c":6,"t":430,"v":0.043},{"k":"P1","c":6,"t":451,"v":0.0398},{"k":"P1","c":6,"t":471,"v":0.037},{"k":"P1","c":6,"t":492,"v":0.0344},{"k":"P1","c":6,"t":512,"v":0.032},{"k":"P1","c":6,"t":533,"v":0.0303},{"k":"P1","c":6,"t":553,"v":0.029},{"k":"P1","c":6,"t":574,"v":0.0276},{"k":"P1","c":6,"t":594,"v":0.026},{"k":"P1","c":6,"t":614,"v":0.0249},{"k":"P1","c":6,"t":635,"v":0.024},{"k":"P1","c":6,"t":655,"v":0.0235},{"k":"P1","c":6,"t":696,"v":0.0225},{"k":"P1","c":6,"t":737,"v":0.0214},{"k":"P1","c":6,"t":778,"v":0.0205},{"k":"P1","c":6,"t":819,"v":0.0195},{"k":"P1","c":6,"t":860,"v":0.0188},{"k":"P1","c":6,"t":900,"v":0.0181},{"k":"P1","c":6,"t":950,"v":0.0175},{"k":"P1","c":6,"t":1000,"v":0.0168},
      {"k":"P25","c":6,"t":0,"v":0},{"k":"P25","c":6,"t":255,"v":0},{"k":"P25","c":6,"t":265,"v":0.001},{"k":"P25","c":6,"t":279,"v":0.0046},{"k":"P25","c":6,"t":295,"v":0.008},{"k":"P25","c":6,"t":312,"v":0.0114},{"k":"P25","c":6,"t":328,"v":0.015},{"k":"P25","c":6,"t":345,"v":0.0181},{"k":"P25","c":6,"t":357,"v":0.0195},{"k":"P25","c":6,"t":369,"v":0.02},{"k":"P25","c":6,"t":400,"v":0.0201},{"k":"P25","c":6,"t":450,"v":0.0202},{"k":"P25","c":6,"t":500,"v":0.0204},{"k":"P25","c":6,"t":550,"v":0.0206},{"k":"P25","c":6,"t":600,"v":0.0208},{"k":"P25","c":6,"t":700,"v":0.021},{"k":"P25","c":6,"t":800,"v":0.0212},{"k":"P25","c":6,"t":900,"v":0.021},{"k":"P25","c":6,"t":1000,"v":0.0208},
      {"k":"P50","c":6,"t":0,"v":0},{"k":"P50","c":6,"t":595,"v":0},{"k":"P50","c":6,"t":610,"v":0.001},{"k":"P50","c":6,"t":623,"v":0.0019},{"k":"P50","c":6,"t":640,"v":0.0032},{"k":"P50","c":6,"t":655,"v":0.0046},{"k":"P50","c":6,"t":675,"v":0.0054},{"k":"P50","c":6,"t":696,"v":0.006},{"k":"P50","c":6,"t":737,"v":0.0065},{"k":"P50","c":6,"t":819,"v":0.007},{"k":"P50","c":6,"t":900,"v":0.0073},{"k":"P50","c":6,"t":1000,"v":0.0078}
    ],
    "c": [
      {"k":"P1","c":3,"t":0,"v":1},{"k":"P1","c":3,"t":50,"v":0.66},{"k":"P1","c":3,"t":100,"v":0.49},{"k":"P1","c":3,"t":150,"v":0.39},{"k":"P1","c":3,"t":200,"v":0.33},{"k":"P1","c":3,"t":240,"v":0.295},{"k":"P1","c":3,"t":271,"v":0.2813},{"k":"P1","c":3,"t":286,"v":0.274},{"k":"P1","c":3,"t":302,"v":0.267},{"k":"P1","c":3,"t":316,"v":0.261},{"k":"P1","c":3,"t":330,"v":0.2552},{"k":"P1","c":3,"t":344,"v":0.2515},{"k":"P1","c":3,"t":358,"v":0.248},{"k":"P1","c":3,"t":366,"v":0.244},{"k":"P1","c":3,"t":375,"v":0.2397},{"k":"P1","c":3,"t":383,"v":0.238},{"k":"P1","c":3,"t":391,"v":0.2362},{"k":"P1","c":3,"t":408,"v":0.231},{"k":"P1","c":3,"t":425,"v":0.2255},{"k":"P1","c":3,"t":447,"v":0.222},{"k":"P1","c":3,"t":470,"v":0.2183},{"k":"P1","c":3,"t":483,"v":0.2148},{"k":"P1","c":3,"t":497,"v":0.2112},{"k":"P1","c":3,"t":511,"v":0.209},{"k":"P1","c":3,"t":525,"v":0.2065},{"k":"P1","c":3,"t":539,"v":0.2041},{"k":"P1","c":3,"t":553,"v":0.2017},{"k":"P1","c":3,"t":567,"v":0.1988},{"k":"P1","c":3,"t":581,"v":0.1958},{"k":"P1","c":3,"t":609,"v":0.1915},{"k":"P1","c":3,"t":637,"v":0.1872},{"k":"P1","c":3,"t":665,"v":0.1832},{"k":"P1","c":3,"t":693,"v":0.1791},{"k":"P1","c":3,"t":707,"v":0.1774},{"k":"P1","c":3,"t":721,"v":0.1756},{"k":"P1","c":3,"t":749,"v":0.1728},{"k":"P1","c":3,"t":777,"v":0.17},{"k":"P1","c":3,"t":805,"v":0.1673},{"k":"P1","c":3,"t":832,"v":0.1637},{"k":"P1","c":3,"t":860,"v":0.1601},{"k":"P1","c":3,"t":888,"v":0.1572},{"k":"P1","c":3,"t":916,"v":0.1542},{"k":"P1","c":3,"t":958,"v":0.153},{"k":"P1","c":3,"t":1000,"v":0.1518},
      {"k":"P2","c":3,"t":0,"v":0},{"k":"P2","c":3,"t":2,"v":0.004},{"k":"P2","c":3,"t":5,"v":0.035},{"k":"P2","c":3,"t":9,"v":0.068},{"k":"P2","c":3,"t":13,"v":0.064},{"k":"P2","c":3,"t":18,"v":0.062},{"k":"P2","c":3,"t":22,"v":0.067},{"k":"P2","c":3,"t":26,"v":0.08},{"k":"P2","c":3,"t":30,"v":0.095},{"k":"P2","c":3,"t":34,"v":0.108},{"k":"P2","c":3,"t":38,"v":0.12},{"k":"P2","c":3,"t":42,"v":0.13},{"k":"P2","c":3,"t":45,"v":0.14},{"k":"P2","c":3,"t":52,"v":0.17},{"k":"P2","c":3,"t":60,"v":0.2},{"k":"P2","c":3,"t":68,"v":0.235},{"k":"P2","c":3,"t":76,"v":0.265},{"k":"P2","c":3,"t":81,"v":0.28},{"k":"P2","c":3,"t":90,"v":0.31},{"k":"P2","c":3,"t":110,"v":0.36},{"k":"P2","c":3,"t":140,"v":0.385},{"k":"P2","c":3,"t":170,"v":0.37},{"k":"P2","c":3,"t":210,"v":0.32},{"k":"P2","c":3,"t":240,"v":0.293},{"k":"P2","c":3,"t":255,"v":0.2813},{"k":"P2","c":3,"t":273,"v":0.27},{"k":"P2","c":3,"t":291,"v":0.2599},{"k":"P2","c":3,"t":305,"v":0.254},{"k":"P2","c":3,"t":319,"v":0.248},{"k":"P2","c":3,"t":338,"v":0.2405},{"k":"P2","c":3,"t":358,"v":0.2326},{"k":"P2","c":3,"t":372,"v":0.229},{"k":"P2","c":3,"t":386,"v":0.2255},{"k":"P2","c":3,"t":400,"v":0.2207},{"k":"P2","c":3,"t":414,"v":0.216},{"k":"P2","c":3,"t":428,"v":0.213},{"k":"P2","c":3,"t":442,"v":0.21},{"k":"P2","c":3,"t":456,"v":0.2077},{"k":"P2","c":3,"t":470,"v":0.2053},{"k":"P2","c":3,"t":483,"v":0.2023},{"k":"P2","c":3,"t":497,"v":0.1993},{"k":"P2","c":3,"t":511,"v":0.1976},{"k":"P2","c":3,"t":525,"v":0.1958},{"k":"P2","c":3,"t":539,"v":0.1928},{"k":"P2","c":3,"t":553,"v":0.1898},{"k":"P2","c":3,"t":567,"v":0.188},{"k":"P2","c":3,"t":581,"v":0.1863},{"k":"P2","c":3,"t":595,"v":0.1839},{"k":"P2","c":3,"t":609,"v":0.1815},{"k":"P2","c":3,"t":623,"v":0.1786},{"k":"P2","c":3,"t":637,"v":0.1756},{"k":"P2","c":3,"t":651,"v":0.1732},{"k":"P2","c":3,"t":665,"v":0.1708},{"k":"P2","c":3,"t":679,"v":0.1685},{"k":"P2","c":3,"t":693,"v":0.1661},{"k":"P2","c":3,"t":707,"v":0.1637},{"k":"P2","c":3,"t":721,"v":0.1613},{"k":"P2","c":3,"t":735,"v":0.1596},{"k":"P2","c":3,"t":749,"v":0.1578},{"k":"P2","c":3,"t":777,"v":0.1554},{"k":"P2","c":3,"t":805,"v":0.153},{"k":"P2","c":3,"t":832,"v":0.1506},{"k":"P2","c":3,"t":860,"v":0.1482},{"k":"P2","c":3,"t":888,"v":0.1465},{"k":"P2","c":3,"t":916,"v":0.1447},{"k":"P2","c":3,"t":958,"v":0.1423},{"k":"P2","c":3,"t":1000,"v":0.1399},
      {"k":"P3","c":3,"t":0,"v":0},{"k":"P3","c":3,"t":20,"v":0.001},{"k":"P3","c":3,"t":40,"v":0.003},{"k":"P3","c":3,"t":60,"v":0.011},{"k":"P3","c":3,"t":80,"v":0.027},{"k":"P3","c":3,"t":100,"v":0.054},{"k":"P3","c":3,"t":110,"v":0.072},{"k":"P3","c":3,"t":120,"v":0.09},{"k":"P3","c":3,"t":130,"v":0.11},{"k":"P3","c":3,"t":140,"v":0.13},{"k":"P3","c":3,"t":150,"v":0.152},{"k":"P3","c":3,"t":160,"v":0.17},{"k":"P3","c":3,"t":168,"v":0.185},{"k":"P3","c":3,"t":175,"v":0.198},{"k":"P3","c":3,"t":183,"v":0.208},{"k":"P3","c":3,"t":190,"v":0.2166},{"k":"P3","c":3,"t":200,"v":0.219},{"k":"P3","c":3,"t":213,"v":0.2207},{"k":"P3","c":3,"t":222,"v":0.2207},{"k":"P3","c":3,"t":232,"v":0.2195},{"k":"P3","c":3,"t":242,"v":0.217},{"k":"P3","c":3,"t":252,"v":0.2136},{"k":"P3","c":3,"t":260,"v":0.211},{"k":"P3","c":3,"t":269,"v":0.2094},{"k":"P3","c":3,"t":280,"v":0.2105},{"k":"P3","c":3,"t":291,"v":0.2112},{"k":"P3","c":3,"t":305,"v":0.21},{"k":"P3","c":3,"t":319,"v":0.2088},{"k":"P3","c":3,"t":333,"v":0.207},{"k":"P3","c":3,"t":347,"v":0.2053},{"k":"P3","c":3,"t":361,"v":0.2035},{"k":"P3","c":3,"t":375,"v":0.2017},{"k":"P3","c":3,"t":395,"v":0.199},{"k":"P3","c":3,"t":414,"v":0.1958},{"k":"P3","c":3,"t":428,"v":0.193},{"k":"P3","c":3,"t":442,"v":0.1898},{"k":"P3","c":3,"t":456,"v":0.188},{"k":"P3","c":3,"t":470,"v":0.1863},{"k":"P3","c":3,"t":497,"v":0.1828},{"k":"P3","c":3,"t":525,"v":0.1791},{"k":"P3","c":3,"t":553,"v":0.176},{"k":"P3","c":3,"t":581,"v":0.1732},{"k":"P3","c":3,"t":595,"v":0.171},{"k":"P3","c":3,"t":609,"v":0.1684},{"k":"P3","c":3,"t":623,"v":0.1672},{"k":"P3","c":3,"t":637,"v":0.1661},{"k":"P3","c":3,"t":651,"v":0.1643},{"k":"P3","c":3,"t":665,"v":0.1625},{"k":"P3","c":3,"t":693,"v":0.16},{"k":"P3","c":3,"t":721,"v":0.1565},{"k":"P3","c":3,"t":749,"v":0.153},{"k":"P3","c":3,"t":777,"v":0.15},{"k":"P3","c":3,"t":805,"v":0.147},{"k":"P3","c":3,"t":832,"v":0.1447},{"k":"P3","c":3,"t":860,"v":0.1423},{"k":"P3","c":3,"t":888,"v":0.1405},{"k":"P3","c":3,"t":916,"v":0.1387},{"k":"P3","c":3,"t":958,"v":0.1357},{"k":"P3","c":3,"t":1000,"v":0.1328},
      {"k":"P4","c":3,"t":0,"v":0},{"k":"P4","c":3,"t":50,"v":0.0003},{"k":"P4","c":3,"t":80,"v":0.001},{"k":"P4","c":3,"t":110,"v":0.005},{"k":"P4","c":3,"t":130,"v":0.01},{"k":"P4","c":3,"t":150,"v":0.02},{"k":"P4","c":3,"t":170,"v":0.034},{"k":"P4","c":3,"t":190,"v":0.055},{"k":"P4","c":3,"t":205,"v":0.075},{"k":"P4","c":3,"t":220,"v":0.095},{"k":"P4","c":3,"t":235,"v":0.115},{"k":"P4","c":3,"t":252,"v":0.13},{"k":"P4","c":3,"t":263,"v":0.136},{"k":"P4","c":3,"t":274,"v":0.1399},{"k":"P4","c":3,"t":288,"v":0.1412},{"k":"P4","c":3,"t":302,"v":0.1423},{"k":"P4","c":3,"t":316,"v":0.1435},{"k":"P4","c":3,"t":330,"v":0.1447},{"k":"P4","c":3,"t":344,"v":0.1453},{"k":"P4","c":3,"t":358,"v":0.1459},{"k":"P4","c":3,"t":386,"v":0.1475},{"k":"P4","c":3,"t":414,"v":0.1488},{"k":"P4","c":3,"t":442,"v":0.149},{"k":"P4","c":3,"t":470,"v":0.1482},{"k":"P4","c":3,"t":497,"v":0.1475},{"k":"P4","c":3,"t":525,"v":0.1465},{"k":"P4","c":3,"t":553,"v":0.1452},{"k":"P4","c":3,"t":581,"v":0.1438},{"k":"P4","c":3,"t":609,"v":0.1425},{"k":"P4","c":3,"t":637,"v":0.1411},{"k":"P4","c":3,"t":665,"v":0.14},{"k":"P4","c":3,"t":693,"v":0.1388},{"k":"P4","c":3,"t":721,"v":0.1379},{"k":"P4","c":3,"t":749,"v":0.137},{"k":"P4","c":3,"t":777,"v":0.136},{"k":"P4","c":3,"t":805,"v":0.1352},{"k":"P4","c":3,"t":832,"v":0.1343},{"k":"P4","c":3,"t":860,"v":0.1334},{"k":"P4","c":3,"t":888,"v":0.1322},{"k":"P4","c":3,"t":916,"v":0.131},{"k":"P4","c":3,"t":958,"v":0.1298},{"k":"P4","c":3,"t":1000,"v":0.1287},
      {"k":"P5","c":3,"t":0,"v":0},{"k":"P5","c":3,"t":90,"v":0.0005},{"k":"P5","c":3,"t":133,"v":0.0032},{"k":"P5","c":3,"t":152,"v":0.0075},{"k":"P5","c":3,"t":172,"v":0.0139},{"k":"P5","c":3,"t":191,"v":0.0225},{"k":"P5","c":3,"t":211,"v":0.034},{"k":"P5","c":3,"t":230,"v":0.046},{"k":"P5","c":3,"t":250,"v":0.059},{"k":"P5","c":3,"t":266,"v":0.069},{"k":"P5","c":3,"t":283,"v":0.077},{"k":"P5","c":3,"t":299,"v":0.0825},{"k":"P5","c":3,"t":315,"v":0.0875},{"k":"P5","c":3,"t":331,"v":0.0912},{"k":"P5","c":3,"t":348,"v":0.0947},{"k":"P5","c":3,"t":364,"v":0.0978},{"k":"P5","c":3,"t":380,"v":0.1006},{"k":"P5","c":3,"t":412,"v":0.103},{"k":"P5","c":3,"t":445,"v":0.1054},{"k":"P5","c":3,"t":478,"v":0.107},{"k":"P5","c":3,"t":511,"v":0.1083},{"k":"P5","c":3,"t":543,"v":0.1105},{"k":"P5","c":3,"t":576,"v":0.1125},{"k":"P5","c":3,"t":608,"v":0.1132},{"k":"P5","c":3,"t":641,"v":0.1137},{"k":"P5","c":3,"t":706,"v":0.114},{"k":"P5","c":3,"t":771,"v":0.1143},{"k":"P5","c":3,"t":836,"v":0.1141},{"k":"P5","c":3,"t":902,"v":0.1137},{"k":"P5","c":3,"t":950,"v":0.1134},{"k":"P5","c":3,"t":1000,"v":0.1131},
      {"k":"P6","c":3,"t":0,"v":0},{"k":"P6","c":3,"t":140,"v":0.0005},{"k":"P6","c":3,"t":190,"v":0.0024},{"k":"P6","c":3,"t":230,"v":0.0065},{"k":"P6","c":3,"t":263,"v":0.0139},{"k":"P6","c":3,"t":289,"v":0.021},{"k":"P6","c":3,"t":315,"v":0.0293},{"k":"P6","c":3,"t":331,"v":0.035},{"k":"P6","c":3,"t":348,"v":0.0412},{"k":"P6","c":3,"t":364,"v":0.046},{"k":"P6","c":3,"t":380,"v":0.0507},{"k":"P6","c":3,"t":396,"v":0.0555},{"k":"P6","c":3,"t":413,"v":0.0602},{"k":"P6","c":3,"t":429,"v":0.0632},{"k":"P6","c":3,"t":445,"v":0.0661},{"k":"P6","c":3,"t":478,"v":0.0712},{"k":"P6","c":3,"t":511,"v":0.0756},{"k":"P6","c":3,"t":543,"v":0.0785},{"k":"P6","c":3,"t":576,"v":0.081},{"k":"P6","c":3,"t":608,"v":0.0832},{"k":"P6","c":3,"t":641,"v":0.0852},{"k":"P6","c":3,"t":706,"v":0.0877},{"k":"P6","c":3,"t":771,"v":0.0899},{"k":"P6","c":3,"t":836,"v":0.0915},{"k":"P6","c":3,"t":902,"v":0.0929},{"k":"P6","c":3,"t":950,"v":0.0941},{"k":"P6","c":3,"t":1000,"v":0.0953},
      {"k":"P7","c":3,"t":0,"v":0},{"k":"P7","c":3,"t":200,"v":0.0004},{"k":"P7","c":3,"t":270,"v":0.0024},{"k":"P7","c":3,"t":315,"v":0.0056},{"k":"P7","c":3,"t":341,"v":0.009},{"k":"P7","c":3,"t":367,"v":0.0139},{"k":"P7","c":3,"t":390,"v":0.019},{"k":"P7","c":3,"t":413,"v":0.0246},{"k":"P7","c":3,"t":429,"v":0.028},{"k":"P7","c":3,"t":445,"v":0.0317},{"k":"P7","c":3,"t":478,"v":0.039},{"k":"P7","c":3,"t":511,"v":0.0459},{"k":"P7","c":3,"t":543,"v":0.0508},{"k":"P7","c":3,"t":576,"v":0.0555},{"k":"P7","c":3,"t":608,"v":0.0592},{"k":"P7","c":3,"t":641,"v":0.0626},{"k":"P7","c":3,"t":706,"v":0.067},{"k":"P7","c":3,"t":771,"v":0.0709},{"k":"P7","c":3,"t":836,"v":0.0735},{"k":"P7","c":3,"t":902,"v":0.0756},{"k":"P7","c":3,"t":950,"v":0.0762},{"k":"P7","c":3,"t":1000,"v":0.0768},
      {"k":"P8","c":3,"t":0,"v":0},{"k":"P8","c":3,"t":280,"v":0.0005},{"k":"P8","c":3,"t":340,"v":0.0024},{"k":"P8","c":3,"t":380,"v":0.0044},{"k":"P8","c":3,"t":413,"v":0.0075},{"k":"P8","c":3,"t":445,"v":0.0115},{"k":"P8","c":3,"t":478,"v":0.0172},{"k":"P8","c":3,"t":511,"v":0.0234},{"k":"P8","c":3,"t":543,"v":0.0288},{"k":"P8","c":3,"t":576,"v":0.0341},{"k":"P8","c":3,"t":608,"v":0.038},{"k":"P8","c":3,"t":641,"v":0.0418},{"k":"P8","c":3,"t":673,"v":0.0448},{"k":"P8","c":3,"t":706,"v":0.0477},{"k":"P8","c":3,"t":739,"v":0.0498},{"k":"P8","c":3,"t":771,"v":0.0519},{"k":"P8","c":3,"t":804,"v":0.0543},{"k":"P8","c":3,"t":836,"v":0.0567},{"k":"P8","c":3,"t":869,"v":0.0585},{"k":"P8","c":3,"t":902,"v":0.0602},{"k":"P8","c":3,"t":950,"v":0.062},{"k":"P8","c":3,"t":1000,"v":0.0638},
      {"k":"P9","c":3,"t":0,"v":0},{"k":"P9","c":3,"t":330,"v":0.0005},{"k":"P9","c":3,"t":400,"v":0.0018},{"k":"P9","c":3,"t":445,"v":0.0032},{"k":"P9","c":3,"t":478,"v":0.006},{"k":"P9","c":3,"t":511,"v":0.0103},{"k":"P9","c":3,"t":543,"v":0.0152},{"k":"P9","c":3,"t":576,"v":0.0204},{"k":"P9","c":3,"t":608,"v":0.025},{"k":"P9","c":3,"t":641,"v":0.0293},{"k":"P9","c":3,"t":673,"v":0.033},{"k":"P9","c":3,"t":706,"v":0.0364},{"k":"P9","c":3,"t":739,"v":0.0395},{"k":"P9","c":3,"t":771,"v":0.0424},{"k":"P9","c":3,"t":804,"v":0.0448},{"k":"P9","c":3,"t":836,"v":0.0471},{"k":"P9","c":3,"t":869,"v":0.0492},{"k":"P9","c":3,"t":902,"v":0.0513},{"k":"P9","c":3,"t":950,"v":0.0537},{"k":"P9","c":3,"t":1000,"v":0.056},
      {"k":"P10","c":3,"t":0,"v":0},{"k":"P10","c":3,"t":380,"v":0.0005},{"k":"P10","c":3,"t":470,"v":0.0018},{"k":"P10","c":3,"t":511,"v":0.0032},{"k":"P10","c":3,"t":543,"v":0.006},{"k":"P10","c":3,"t":576,"v":0.0091},{"k":"P10","c":3,"t":608,"v":0.013},{"k":"P10","c":3,"t":641,"v":0.0174},{"k":"P10","c":3,"t":673,"v":0.0215},{"k":"P10","c":3,"t":706,"v":0.0257},{"k":"P10","c":3,"t":739,"v":0.029},{"k":"P10","c":3,"t":771,"v":0.0317},{"k":"P10","c":3,"t":804,"v":0.0341},{"k":"P10","c":3,"t":836,"v":0.0364},{"k":"P10","c":3,"t":869,"v":0.0385},{"k":"P10","c":3,"t":902,"v":0.0406},{"k":"P10","c":3,"t":950,"v":0.0427},{"k":"P10","c":3,"t":1000,"v":0.0448},
      {"k":"P1","c":6,"t":0,"v":1},{"k":"P1","c":6,"t":50,"v":0.65},{"k":"P1","c":6,"t":100,"v":0.48},{"k":"P1","c":6,"t":150,"v":0.38},{"k":"P1","c":6,"t":200,"v":0.32},{"k":"P1","c":6,"t":230,"v":0.292},{"k":"P1","c":6,"t":246,"v":0.2813},{"k":"P1","c":6,"t":260,"v":0.274},{"k":"P1","c":6,"t":274,"v":0.268},{"k":"P1","c":6,"t":288,"v":0.261},{"k":"P1","c":6,"t":302,"v":0.254},{"k":"P1","c":6,"t":316,"v":0.25},{"k":"P1","c":6,"t":330,"v":0.246},{"k":"P1","c":6,"t":344,"v":0.241},{"k":"P1","c":6,"t":358,"v":0.236},{"k":"P1","c":6,"t":372,"v":0.233},{"k":"P1","c":6,"t":386,"v":0.23},{"k":"P1","c":6,"t":400,"v":0.227},{"k":"P1","c":6,"t":414,"v":0.224},{"k":"P1","c":6,"t":428,"v":0.221},{"k":"P1","c":6,"t":442,"v":0.218},{"k":"P1","c":6,"t":456,"v":0.215},{"k":"P1","c":6,"t":470,"v":0.212},{"k":"P1","c":6,"t":483,"v":0.21},{"k":"P1","c":6,"t":497,"v":0.208},{"k":"P1","c":6,"t":511,"v":0.2055},{"k":"P1","c":6,"t":525,"v":0.203},{"k":"P1","c":6,"t":539,"v":0.2005},{"k":"P1","c":6,"t":553,"v":0.198},{"k":"P1","c":6,"t":565,"v":0.1957},{"k":"P1","c":6,"t":576,"v":0.1934},{"k":"P1","c":6,"t":590,"v":0.191},{"k":"P1","c":6,"t":605,"v":0.188},{"k":"P1","c":6,"t":621,"v":0.1855},{"k":"P1","c":6,"t":637,"v":0.1827},{"k":"P1","c":6,"t":651,"v":0.1805},{"k":"P1","c":6,"t":665,"v":0.178},{"k":"P1","c":6,"t":679,"v":0.1774},{"k":"P1","c":6,"t":693,"v":0.1768},{"k":"P1","c":6,"t":710,"v":0.1744},{"k":"P1","c":6,"t":730,"v":0.172},{"k":"P1","c":6,"t":749,"v":0.1696},{"k":"P1","c":6,"t":777,"v":0.1667},{"k":"P1","c":6,"t":805,"v":0.1637},{"k":"P1","c":6,"t":832,"v":0.1612},{"k":"P1","c":6,"t":860,"v":0.159},{"k":"P1","c":6,"t":888,"v":0.1565},{"k":"P1","c":6,"t":916,"v":0.1543},{"k":"P1","c":6,"t":944,"v":0.1525},{"k":"P1","c":6,"t":972,"v":0.151},{"k":"P1","c":6,"t":1000,"v":0.149},
      {"k":"P2","c":6,"t":0,"v":0},{"k":"P2","c":6,"t":2,"v":0.005},{"k":"P2","c":6,"t":5,"v":0.04},{"k":"P2","c":6,"t":8,"v":0.072},{"k":"P2","c":6,"t":10,"v":0.074},{"k":"P2","c":6,"t":13,"v":0.069},{"k":"P2","c":6,"t":17,"v":0.066},{"k":"P2","c":6,"t":20,"v":0.068},{"k":"P2","c":6,"t":24,"v":0.078},{"k":"P2","c":6,"t":28,"v":0.1},{"k":"P2","c":6,"t":32,"v":0.117},{"k":"P2","c":6,"t":36,"v":0.13},{"k":"P2","c":6,"t":40,"v":0.145},{"k":"P2","c":6,"t":45,"v":0.16},{"k":"P2","c":6,"t":50,"v":0.18},{"k":"P2","c":6,"t":55,"v":0.2},{"k":"P2","c":6,"t":60,"v":0.225},{"k":"P2","c":6,"t":65,"v":0.255},{"k":"P2","c":6,"t":70,"v":0.28},{"k":"P2","c":6,"t":80,"v":0.32},{"k":"P2","c":6,"t":100,"v":0.37},{"k":"P2","c":6,"t":130,"v":0.39},{"k":"P2","c":6,"t":160,"v":0.375},{"k":"P2","c":6,"t":200,"v":0.33},{"k":"P2","c":6,"t":230,"v":0.296},{"k":"P2","c":6,"t":246,"v":0.2813},{"k":"P2","c":6,"t":260,"v":0.274},{"k":"P2","c":6,"t":274,"v":0.267},{"k":"P2","c":6,"t":288,"v":0.259},{"k":"P2","c":6,"t":302,"v":0.2516},{"k":"P2","c":6,"t":316,"v":0.246},{"k":"P2","c":6,"t":330,"v":0.2409},{"k":"P2","c":6,"t":344,"v":0.235},{"k":"P2","c":6,"t":358,"v":0.2302},{"k":"P2","c":6,"t":372,"v":0.226},{"k":"P2","c":6,"t":386,"v":0.2219},{"k":"P2","c":6,"t":400,"v":0.217},{"k":"P2","c":6,"t":414,"v":0.2124},{"k":"P2","c":6,"t":428,"v":0.2088},{"k":"P2","c":6,"t":442,"v":0.2053},{"k":"P2","c":6,"t":456,"v":0.2017},{"k":"P2","c":6,"t":470,"v":0.1981},{"k":"P2","c":6,"t":483,"v":0.195},{"k":"P2","c":6,"t":497,"v":0.1922},{"k":"P2","c":6,"t":511,"v":0.1892},{"k":"P2","c":6,"t":525,"v":0.1863},{"k":"P2","c":6,"t":539,"v":0.1839},{"k":"P2","c":6,"t":553,"v":0.1815},{"k":"P2","c":6,"t":567,"v":0.1797},{"k":"P2","c":6,"t":581,"v":0.178},{"k":"P2","c":6,"t":595,"v":0.1756},{"k":"P2","c":6,"t":609,"v":0.1732},{"k":"P2","c":6,"t":623,"v":0.1708},{"k":"P2","c":6,"t":637,"v":0.1684},{"k":"P2","c":6,"t":665,"v":0.1637},{"k":"P2","c":6,"t":693,"v":0.1613},{"k":"P2","c":6,"t":721,"v":0.1578},{"k":"P2","c":6,"t":749,"v":0.1554},{"k":"P2","c":6,"t":777,"v":0.153},{"k":"P2","c":6,"t":805,"v":0.1506},{"k":"P2","c":6,"t":832,"v":0.1488},{"k":"P2","c":6,"t":860,"v":0.147},{"k":"P2","c":6,"t":888,"v":0.1458},{"k":"P2","c":6,"t":916,"v":0.1447},{"k":"P2","c":6,"t":958,"v":0.1432},{"k":"P2","c":6,"t":1000,"v":0.1417},
      {"k":"P3","c":6,"t":0,"v":0},{"k":"P3","c":6,"t":20,"v":0.001},{"k":"P3","c":6,"t":40,"v":0.004},{"k":"P3","c":6,"t":60,"v":0.013},{"k":"P3","c":6,"t":80,"v":0.03},{"k":"P3","c":6,"t":100,"v":0.06},{"k":"P3","c":6,"t":110,"v":0.078},{"k":"P3","c":6,"t":120,"v":0.1},{"k":"P3","c":6,"t":128,"v":0.12},{"k":"P3","c":6,"t":137,"v":0.145},{"k":"P3","c":6,"t":144,"v":0.163},{"k":"P3","c":6,"t":151,"v":0.178},{"k":"P3","c":6,"t":160,"v":0.192},{"k":"P3","c":6,"t":168,"v":0.203},{"k":"P3","c":6,"t":178,"v":0.211},{"k":"P3","c":6,"t":190,"v":0.218},{"k":"P3","c":6,"t":200,"v":0.2225},{"k":"P3","c":6,"t":212,"v":0.2245},{"k":"P3","c":6,"t":222,"v":0.2235},{"k":"P3","c":6,"t":232,"v":0.2215},{"k":"P3","c":6,"t":247,"v":0.2195},{"k":"P3","c":6,"t":260,"v":0.2165},{"k":"P3","c":6,"t":274,"v":0.2136},{"k":"P3","c":6,"t":288,"v":0.2105},{"k":"P3","c":6,"t":302,"v":0.2076},{"k":"P3","c":6,"t":316,"v":0.205},{"k":"P3","c":6,"t":330,"v":0.2029},{"k":"P3","c":6,"t":344,"v":0.201},{"k":"P3","c":6,"t":358,"v":0.1993},{"k":"P3","c":6,"t":372,"v":0.1975},{"k":"P3","c":6,"t":386,"v":0.1958},{"k":"P3","c":6,"t":400,"v":0.194},{"k":"P3","c":6,"t":414,"v":0.1922},{"k":"P3","c":6,"t":428,"v":0.1905},{"k":"P3","c":6,"t":442,"v":0.1887},{"k":"P3","c":6,"t":456,"v":0.1875},{"k":"P3","c":6,"t":470,"v":0.1863},{"k":"P3","c":6,"t":483,"v":0.1845},{"k":"P3","c":6,"t":497,"v":0.1827},{"k":"P3","c":6,"t":511,"v":0.1815},{"k":"P3","c":6,"t":525,"v":0.1803},{"k":"P3","c":6,"t":539,"v":0.1785},{"k":"P3","c":6,"t":553,"v":0.1768},{"k":"P3","c":6,"t":567,"v":0.175},{"k":"P3","c":6,"t":581,"v":0.1732},{"k":"P3","c":6,"t":595,"v":0.172},{"k":"P3","c":6,"t":609,"v":0.1708},{"k":"P3","c":6,"t":623,"v":0.169},{"k":"P3","c":6,"t":637,"v":0.1673},{"k":"P3","c":6,"t":665,"v":0.1649},{"k":"P3","c":6,"t":693,"v":0.1625},{"k":"P3","c":6,"t":721,"v":0.159},{"k":"P3","c":6,"t":749,"v":0.1554},{"k":"P3","c":6,"t":777,"v":0.1524},{"k":"P3","c":6,"t":805,"v":0.1494},{"k":"P3","c":6,"t":832,"v":0.147},{"k":"P3","c":6,"t":860,"v":0.1447},{"k":"P3","c":6,"t":888,"v":0.1423},{"k":"P3","c":6,"t":916,"v":0.14},{"k":"P3","c":6,"t":958,"v":0.1376},{"k":"P3","c":6,"t":1000,"v":0.1352},
      {"k":"P4","c":6,"t":0,"v":0},{"k":"P4","c":6,"t":40,"v":0.0003},{"k":"P4","c":6,"t":68,"v":0.001},{"k":"P4","c":6,"t":100,"v":0.005},{"k":"P4","c":6,"t":120,"v":0.01},{"k":"P4","c":6,"t":140,"v":0.02},{"k":"P4","c":6,"t":160,"v":0.035},{"k":"P4","c":6,"t":180,"v":0.057},{"k":"P4","c":6,"t":195,"v":0.077},{"k":"P4","c":6,"t":207,"v":0.095},{"k":"P4","c":6,"t":220,"v":0.11},{"k":"P4","c":6,"t":230,"v":0.12},{"k":"P4","c":6,"t":246,"v":0.133},{"k":"P4","c":6,"t":260,"v":0.139},{"k":"P4","c":6,"t":274,"v":0.1425},{"k":"P4","c":6,"t":288,"v":0.1455},{"k":"P4","c":6,"t":302,"v":0.147},{"k":"P4","c":6,"t":330,"v":0.1487},{"k":"P4","c":6,"t":358,"v":0.1492},{"k":"P4","c":6,"t":386,"v":0.149},{"k":"P4","c":6,"t":414,"v":0.1485},{"k":"P4","c":6,"t":442,"v":0.148},{"k":"P4","c":6,"t":470,"v":0.1477},{"k":"P4","c":6,"t":497,"v":0.1468},{"k":"P4","c":6,"t":525,"v":0.1459},{"k":"P4","c":6,"t":553,"v":0.1445},{"k":"P4","c":6,"t":581,"v":0.1429},{"k":"P4","c":6,"t":609,"v":0.1415},{"k":"P4","c":6,"t":637,"v":0.14},{"k":"P4","c":6,"t":665,"v":0.1388},{"k":"P4","c":6,"t":693,"v":0.1376},{"k":"P4","c":6,"t":721,"v":0.1364},{"k":"P4","c":6,"t":749,"v":0.1352},{"k":"P4","c":6,"t":777,"v":0.1343},{"k":"P4","c":6,"t":805,"v":0.1334},{"k":"P4","c":6,"t":832,"v":0.1325},{"k":"P4","c":6,"t":860,"v":0.1316},{"k":"P4","c":6,"t":888,"v":0.1304},{"k":"P4","c":6,"t":916,"v":0.1292},{"k":"P4","c":6,"t":958,"v":0.128},{"k":"P4","c":6,"t":1000,"v":0.1269},
      {"k":"P5","c":6,"t":0,"v":0},{"k":"P5","c":6,"t":80,"v":0.0005},{"k":"P5","c":6,"t":120,"v":0.0032},{"k":"P5","c":6,"t":152,"v":0.0091},{"k":"P5","c":6,"t":170,"v":0.014},{"k":"P5","c":6,"t":185,"v":0.0198},{"k":"P5","c":6,"t":200,"v":0.028},{"k":"P5","c":6,"t":217,"v":0.0376},{"k":"P5","c":6,"t":233,"v":0.05},{"k":"P5","c":6,"t":250,"v":0.0614},{"k":"P5","c":6,"t":266,"v":0.071},{"k":"P5","c":6,"t":283,"v":0.0792},{"k":"P5","c":6,"t":299,"v":0.085},{"k":"P5","c":6,"t":315,"v":0.0899},{"k":"P5","c":6,"t":331,"v":0.0938},{"k":"P5","c":6,"t":348,"v":0.097},{"k":"P5","c":6,"t":364,"v":0.0996},{"k":"P5","c":6,"t":380,"v":0.1018},{"k":"P5","c":6,"t":412,"v":0.1048},{"k":"P5","c":6,"t":445,"v":0.1071},{"k":"P5","c":6,"t":478,"v":0.1085},{"k":"P5","c":6,"t":511,"v":0.1095},{"k":"P5","c":6,"t":543,"v":0.1105},{"k":"P5","c":6,"t":576,"v":0.1113},{"k":"P5","c":6,"t":608,"v":0.1117},{"k":"P5","c":6,"t":641,"v":0.1119},{"k":"P5","c":6,"t":706,"v":0.1119},{"k":"P5","c":6,"t":771,"v":0.1119},{"k":"P5","c":6,"t":836,"v":0.1113},{"k":"P5","c":6,"t":902,"v":0.1101},{"k":"P5","c":6,"t":950,"v":0.1095},{"k":"P5","c":6,"t":1000,"v":0.1089},
      {"k":"P6","c":6,"t":0,"v":0},{"k":"P6","c":6,"t":120,"v":0.0005},{"k":"P6","c":6,"t":172,"v":0.0024},{"k":"P6","c":6,"t":195,"v":0.0038},{"k":"P6","c":6,"t":217,"v":0.0056},{"k":"P6","c":6,"t":240,"v":0.01},{"k":"P6","c":6,"t":263,"v":0.0163},{"k":"P6","c":6,"t":289,"v":0.0245},{"k":"P6","c":6,"t":315,"v":0.0329},{"k":"P6","c":6,"t":331,"v":0.039},{"k":"P6","c":6,"t":348,"v":0.0448},{"k":"P6","c":6,"t":364,"v":0.0497},{"k":"P6","c":6,"t":380,"v":0.0543},{"k":"P6","c":6,"t":396,"v":0.0585},{"k":"P6","c":6,"t":413,"v":0.0626},{"k":"P6","c":6,"t":429,"v":0.0658},{"k":"P6","c":6,"t":445,"v":0.0685},{"k":"P6","c":6,"t":478,"v":0.073},{"k":"P6","c":6,"t":511,"v":0.0768},{"k":"P6","c":6,"t":543,"v":0.0795},{"k":"P6","c":6,"t":576,"v":0.0816},{"k":"P6","c":6,"t":608,"v":0.0835},{"k":"P6","c":6,"t":641,"v":0.0852},{"k":"P6","c":6,"t":673,"v":0.0864},{"k":"P6","c":6,"t":706,"v":0.0875},{"k":"P6","c":6,"t":739,"v":0.0885},{"k":"P6","c":6,"t":771,"v":0.0893},{"k":"P6","c":6,"t":804,"v":0.09},{"k":"P6","c":6,"t":836,"v":0.0905},{"k":"P6","c":6,"t":869,"v":0.0911},{"k":"P6","c":6,"t":902,"v":0.0917},{"k":"P6","c":6,"t":950,"v":0.0923},{"k":"P6","c":6,"t":1000,"v":0.0929},
      {"k":"P7","c":6,"t":0,"v":0},{"k":"P7","c":6,"t":180,"v":0.0004},{"k":"P7","c":6,"t":250,"v":0.0024},{"k":"P7","c":6,"t":283,"v":0.0042},{"k":"P7","c":6,"t":315,"v":0.0068},{"k":"P7","c":6,"t":341,"v":0.0108},{"k":"P7","c":6,"t":367,"v":0.0163},{"k":"P7","c":6,"t":390,"v":0.0215},{"k":"P7","c":6,"t":413,"v":0.027},{"k":"P7","c":6,"t":429,"v":0.031},{"k":"P7","c":6,"t":445,"v":0.0353},{"k":"P7","c":6,"t":478,"v":0.042},{"k":"P7","c":6,"t":511,"v":0.0483},{"k":"P7","c":6,"t":543,"v":0.0535},{"k":"P7","c":6,"t":576,"v":0.0579},{"k":"P7","c":6,"t":608,"v":0.0612},{"k":"P7","c":6,"t":641,"v":0.0638},{"k":"P7","c":6,"t":673,"v":0.0663},{"k":"P7","c":6,"t":706,"v":0.0685},{"k":"P7","c":6,"t":739,"v":0.0707},{"k":"P7","c":6,"t":771,"v":0.0727},{"k":"P7","c":6,"t":804,"v":0.074},{"k":"P7","c":6,"t":836,"v":0.0751},{"k":"P7","c":6,"t":869,"v":0.076},{"k":"P7","c":6,"t":902,"v":0.0768},{"k":"P7","c":6,"t":950,"v":0.0774},{"k":"P7","c":6,"t":1000,"v":0.078},
      {"k":"P8","c":6,"t":0,"v":0},{"k":"P8","c":6,"t":250,"v":0.0005},{"k":"P8","c":6,"t":315,"v":0.0024},{"k":"P8","c":6,"t":348,"v":0.0038},{"k":"P8","c":6,"t":380,"v":0.0056},{"k":"P8","c":6,"t":413,"v":0.009},{"k":"P8","c":6,"t":445,"v":0.0139},{"k":"P8","c":6,"t":478,"v":0.0195},{"k":"P8","c":6,"t":511,"v":0.0258},{"k":"P8","c":6,"t":543,"v":0.0312},{"k":"P8","c":6,"t":576,"v":0.0365},{"k":"P8","c":6,"t":608,"v":0.0403},{"k":"P8","c":6,"t":641,"v":0.0436},{"k":"P8","c":6,"t":673,"v":0.0467},{"k":"P8","c":6,"t":706,"v":0.0495},{"k":"P8","c":6,"t":739,"v":0.052},{"k":"P8","c":6,"t":771,"v":0.0543},{"k":"P8","c":6,"t":804,"v":0.0567},{"k":"P8","c":6,"t":836,"v":0.059},{"k":"P8","c":6,"t":869,"v":0.0606},{"k":"P8","c":6,"t":902,"v":0.062},{"k":"P8","c":6,"t":950,"v":0.064},{"k":"P8","c":6,"t":1000,"v":0.0661},
      {"k":"P9","c":6,"t":0,"v":0},{"k":"P9","c":6,"t":300,"v":0.0005},{"k":"P9","c":6,"t":380,"v":0.0024},{"k":"P9","c":6,"t":413,"v":0.0032},{"k":"P9","c":6,"t":445,"v":0.0044},{"k":"P9","c":6,"t":478,"v":0.0078},{"k":"P9","c":6,"t":511,"v":0.0127},{"k":"P9","c":6,"t":543,"v":0.018},{"k":"P9","c":6,"t":576,"v":0.0234},{"k":"P9","c":6,"t":608,"v":0.0278},{"k":"P9","c":6,"t":641,"v":0.0317},{"k":"P9","c":6,"t":673,"v":0.0353},{"k":"P9","c":6,"t":706,"v":0.0388},{"k":"P9","c":6,"t":739,"v":0.042},{"k":"P9","c":6,"t":771,"v":0.0448},{"k":"P9","c":6,"t":804,"v":0.0472},{"k":"P9","c":6,"t":836,"v":0.0495},{"k":"P9","c":6,"t":869,"v":0.0517},{"k":"P9","c":6,"t":902,"v":0.0537},{"k":"P9","c":6,"t":950,"v":0.0558},{"k":"P9","c":6,"t":1000,"v":0.0578},
      {"k":"P10","c":6,"t":0,"v":0},{"k":"P10","c":6,"t":350,"v":0.0005},{"k":"P10","c":6,"t":445,"v":0.0024},{"k":"P10","c":6,"t":478,"v":0.0038},{"k":"P10","c":6,"t":511,"v":0.0056},{"k":"P10","c":6,"t":543,"v":0.0088},{"k":"P10","c":6,"t":576,"v":0.0127},{"k":"P10","c":6,"t":608,"v":0.0168},{"k":"P10","c":6,"t":641,"v":0.021},{"k":"P10","c":6,"t":673,"v":0.0246},{"k":"P10","c":6,"t":706,"v":0.0281},{"k":"P10","c":6,"t":739,"v":0.0312},{"k":"P10","c":6,"t":771,"v":0.034},{"k":"P10","c":6,"t":804,"v":0.0365},{"k":"P10","c":6,"t":836,"v":0.0388},{"k":"P10","c":6,"t":869,"v":0.0407},{"k":"P10","c":6,"t":902,"v":0.0424},{"k":"P10","c":6,"t":950,"v":0.0448},{"k":"P10","c":6,"t":1000,"v":0.0471}
    ],
    "d": [
      {"k":"P2","c":3,"t":0,"v":0},{"k":"P2","c":3,"t":2,"v":0.02},{"k":"P2","c":3,"t":4.4,"v":0.0347},{"k":"P2","c":3,"t":9,"v":0.0345},{"k":"P2","c":3,"t":14,"v":0.0338},{"k":"P2","c":3,"t":19,"v":0.0342},{"k":"P2","c":3,"t":24,"v":0.0345},{"k":"P2","c":3,"t":29,"v":0.0347},{"k":"P2","c":3,"t":34,"v":0.0342},{"k":"P2","c":3,"t":39,"v":0.034},{"k":"P2","c":3,"t":44,"v":0.0338},{"k":"P2","c":3,"t":48,"v":0.036},{"k":"P2","c":3,"t":52,"v":0.0403},{"k":"P2","c":3,"t":58,"v":0.043},{"k":"P2","c":3,"t":64,"v":0.0459},{"k":"P2","c":3,"t":72,"v":0.049},{"k":"P2","c":3,"t":79,"v":0.0514},{"k":"P2","c":3,"t":87,"v":0.056},{"k":"P2","c":3,"t":94,"v":0.0608},{"k":"P2","c":3,"t":102,"v":0.0655},{"k":"P2","c":3,"t":109,"v":0.07},{"k":"P2","c":3,"t":117,"v":0.0745},{"k":"P2","c":3,"t":124,"v":0.0794},{"k":"P2","c":3,"t":132,"v":0.083},{"k":"P2","c":3,"t":139,"v":0.0868},{"k":"P2","c":3,"t":147,"v":0.092},{"k":"P2","c":3,"t":154,"v":0.098},{"k":"P2","c":3,"t":162,"v":0.1035},{"k":"P2","c":3,"t":169,"v":0.1091},{"k":"P2","c":3,"t":179,"v":0.1155},{"k":"P2","c":3,"t":189,"v":0.1222},{"k":"P2","c":3,"t":199,"v":0.1287},{"k":"P2","c":3,"t":209,"v":0.1352},{"k":"P2","c":3,"t":219,"v":0.14},{"k":"P2","c":3,"t":229,"v":0.1445},{"k":"P2","c":3,"t":239,"v":0.1492},{"k":"P2","c":3,"t":249,"v":0.1538},{"k":"P2","c":3,"t":259,"v":0.159},{"k":"P2","c":3,"t":269,"v":0.164},{"k":"P2","c":3,"t":279,"v":0.169},{"k":"P2","c":3,"t":289,"v":0.1743},{"k":"P2","c":3,"t":302,"v":0.18},{"k":"P2","c":3,"t":314,"v":0.1855},{"k":"P2","c":3,"t":327,"v":0.191},{"k":"P2","c":3,"t":339,"v":0.1966},{"k":"P2","c":3,"t":352,"v":0.2013},{"k":"P2","c":3,"t":364,"v":0.2059},{"k":"P2","c":3,"t":377,"v":0.2106},{"k":"P2","c":3,"t":389,"v":0.2152},{"k":"P2","c":3,"t":402,"v":0.22},{"k":"P2","c":3,"t":414,"v":0.2245},{"k":"P2","c":3,"t":427,"v":0.2283},{"k":"P2","c":3,"t":439,"v":0.232},{"k":"P2","c":3,"t":452,"v":0.2353},{"k":"P2","c":3,"t":464,"v":0.2385},{"k":"P2","c":3,"t":477,"v":0.2418},{"k":"P2","c":3,"t":489,"v":0.245},{"k":"P2","c":3,"t":502,"v":0.2483},{"k":"P2","c":3,"t":514,"v":0.2515},{"k":"P2","c":3,"t":527,"v":0.2548},{"k":"P2","c":3,"t":539,"v":0.258},{"k":"P2","c":3,"t":552,"v":0.2608},{"k":"P2","c":3,"t":564,"v":0.2636},{"k":"P2","c":3,"t":577,"v":0.266},{"k":"P2","c":3,"t":589,"v":0.2682},{"k":"P2","c":3,"t":602,"v":0.2693},{"k":"P2","c":3,"t":614,"v":0.2701},{"k":"P2","c":3,"t":639,"v":0.2714},{"k":"P2","c":3,"t":664,"v":0.272},{"k":"P2","c":3,"t":689,"v":0.2725},{"k":"P2","c":3,"t":714,"v":0.2729},{"k":"P2","c":3,"t":738,"v":0.2733},{"k":"P2","c":3,"t":772,"v":0.2736},{"k":"P2","c":3,"t":800,"v":0.2738},{"k":"P2","c":3,"t":837,"v":0.2735},{"k":"P2","c":3,"t":848,"v":0.2722},{"k":"P2","c":3,"t":859,"v":0.2708},{"k":"P2","c":3,"t":875,"v":0.2712},{"k":"P2","c":3,"t":890,"v":0.272},{"k":"P2","c":3,"t":911,"v":0.273},{"k":"P2","c":3,"t":950,"v":0.2748},{"k":"P2","c":3,"t":1000,"v":0.277},
      {"k":"P3","c":3,"t":0,"v":0},{"k":"P3","c":3,"t":60,"v":0.0008},{"k":"P3","c":3,"t":120,"v":0.0023},{"k":"P3","c":3,"t":185,"v":0.0065},{"k":"P3","c":3,"t":250,"v":0.0136},{"k":"P3","c":3,"t":316,"v":0.0219},{"k":"P3","c":3,"t":350,"v":0.0265},{"k":"P3","c":3,"t":381,"v":0.0313},{"k":"P3","c":3,"t":446,"v":0.041},{"k":"P3","c":3,"t":512,"v":0.0505},{"k":"P3","c":3,"t":577,"v":0.0598},{"k":"P3","c":3,"t":642,"v":0.068},{"k":"P3","c":3,"t":707,"v":0.0763},{"k":"P3","c":3,"t":773,"v":0.0834},{"k":"P3","c":3,"t":838,"v":0.0905},{"k":"P3","c":3,"t":903,"v":0.0964},{"k":"P3","c":3,"t":950,"v":0.0992},{"k":"P3","c":3,"t":1000,"v":0.1012},
      {"k":"P4","c":3,"t":0,"v":0},{"k":"P4","c":3,"t":140,"v":0.0003},{"k":"P4","c":3,"t":270,"v":0.0009},{"k":"P4","c":3,"t":381,"v":0.0017},{"k":"P4","c":3,"t":450,"v":0.0028},{"k":"P4","c":3,"t":512,"v":0.0041},{"k":"P4","c":3,"t":580,"v":0.0063},{"k":"P4","c":3,"t":642,"v":0.0088},{"k":"P4","c":3,"t":710,"v":0.0122},{"k":"P4","c":3,"t":773,"v":0.0159},{"k":"P4","c":3,"t":840,"v":0.0198},{"k":"P4","c":3,"t":903,"v":0.0242},{"k":"P4","c":3,"t":950,"v":0.026},{"k":"P4","c":3,"t":1000,"v":0.0278},
      {"k":"P5","c":3,"t":0,"v":0},{"k":"P5","c":3,"t":300,"v":0.0002},{"k":"P5","c":3,"t":500,"v":0.0008},{"k":"P5","c":3,"t":700,"v":0.0018},{"k":"P5","c":3,"t":773,"v":0.003},{"k":"P5","c":3,"t":900,"v":0.0042},{"k":"P5","c":3,"t":1000,"v":0.0053},
      {"k":"P2","c":6,"t":0,"v":0},{"k":"P2","c":6,"t":2,"v":0.02},{"k":"P2","c":6,"t":4.4,"v":0.0421},{"k":"P2","c":6,"t":9,"v":0.038},{"k":"P2","c":6,"t":14,"v":0.0366},{"k":"P2","c":6,"t":19,"v":0.0384},{"k":"P2","c":6,"t":24,"v":0.043},{"k":"P2","c":6,"t":29,"v":0.0477},{"k":"P2","c":6,"t":34,"v":0.049},{"k":"P2","c":6,"t":39,"v":0.0496},{"k":"P2","c":6,"t":47,"v":0.055},{"k":"P2","c":6,"t":54,"v":0.0608},{"k":"P2","c":6,"t":59,"v":0.063},{"k":"P2","c":6,"t":64,"v":0.0645},{"k":"P2","c":6,"t":72,"v":0.07},{"k":"P2","c":6,"t":79,"v":0.0757},{"k":"P2","c":6,"t":87,"v":0.0795},{"k":"P2","c":6,"t":94,"v":0.0831},{"k":"P2","c":6,"t":102,"v":0.0878},{"k":"P2","c":6,"t":109,"v":0.0924},{"k":"P2","c":6,"t":117,"v":0.097},{"k":"P2","c":6,"t":124,"v":0.1017},{"k":"P2","c":6,"t":132,"v":0.1064},{"k":"P2","c":6,"t":139,"v":0.111},{"k":"P2","c":6,"t":147,"v":0.1152},{"k":"P2","c":6,"t":154,"v":0.1194},{"k":"P2","c":6,"t":162,"v":0.1236},{"k":"P2","c":6,"t":169,"v":0.1278},{"k":"P2","c":6,"t":177,"v":0.1315},{"k":"P2","c":6,"t":184,"v":0.1352},{"k":"P2","c":6,"t":192,"v":0.1389},{"k":"P2","c":6,"t":199,"v":0.1426},{"k":"P2","c":6,"t":209,"v":0.1482},{"k":"P2","c":6,"t":219,"v":0.1538},{"k":"P2","c":6,"t":229,"v":0.1585},{"k":"P2","c":6,"t":239,"v":0.1631},{"k":"P2","c":6,"t":252,"v":0.1687},{"k":"P2","c":6,"t":264,"v":0.1743},{"k":"P2","c":6,"t":277,"v":0.1794},{"k":"P2","c":6,"t":289,"v":0.1845},{"k":"P2","c":6,"t":302,"v":0.1897},{"k":"P2","c":6,"t":314,"v":0.1948},{"k":"P2","c":6,"t":327,"v":0.1995},{"k":"P2","c":6,"t":339,"v":0.2041},{"k":"P2","c":6,"t":352,"v":0.2088},{"k":"P2","c":6,"t":364,"v":0.2134},{"k":"P2","c":6,"t":377,"v":0.2171},{"k":"P2","c":6,"t":389,"v":0.2208},{"k":"P2","c":6,"t":402,"v":0.2245},{"k":"P2","c":6,"t":414,"v":0.2282},{"k":"P2","c":6,"t":427,"v":0.2315},{"k":"P2","c":6,"t":439,"v":0.2348},{"k":"P2","c":6,"t":452,"v":0.2376},{"k":"P2","c":6,"t":464,"v":0.2403},{"k":"P2","c":6,"t":477,"v":0.2431},{"k":"P2","c":6,"t":489,"v":0.2459},{"k":"P2","c":6,"t":502,"v":0.2487},{"k":"P2","c":6,"t":514,"v":0.2515},{"k":"P2","c":6,"t":527,"v":0.2548},{"k":"P2","c":6,"t":539,"v":0.258},{"k":"P2","c":6,"t":552,"v":0.2608},{"k":"P2","c":6,"t":564,"v":0.2636},{"k":"P2","c":6,"t":577,"v":0.2659},{"k":"P2","c":6,"t":589,"v":0.2682},{"k":"P2","c":6,"t":604,"v":0.2706},{"k":"P2","c":6,"t":619,"v":0.2729},{"k":"P2","c":6,"t":638,"v":0.2762},{"k":"P2","c":6,"t":656,"v":0.2794},{"k":"P2","c":6,"t":700,"v":0.286},{"k":"P2","c":6,"t":800,"v":0.298},{"k":"P2","c":6,"t":1000,"v":0.315},
      {"k":"P3","c":6,"t":0,"v":0},{"k":"P3","c":6,"t":39,"v":0.0012},{"k":"P3","c":6,"t":89,"v":0.0045},{"k":"P3","c":6,"t":139,"v":0.008},{"k":"P3","c":6,"t":189,"v":0.0138},{"k":"P3","c":6,"t":239,"v":0.0195},{"k":"P3","c":6,"t":289,"v":0.0258},{"k":"P3","c":6,"t":339,"v":0.0322},{"k":"P3","c":6,"t":389,"v":0.039},{"k":"P3","c":6,"t":439,"v":0.0455},{"k":"P3","c":6,"t":489,"v":0.051},{"k":"P3","c":6,"t":539,"v":0.0575},{"k":"P3","c":6,"t":577,"v":0.0621},{"k":"P3","c":6,"t":642,"v":0.071},{"k":"P3","c":6,"t":707,"v":0.0799},{"k":"P3","c":6,"t":773,"v":0.0882},{"k":"P3","c":6,"t":838,"v":0.0964},{"k":"P3","c":6,"t":903,"v":0.1036},{"k":"P3","c":6,"t":950,"v":0.1085},{"k":"P3","c":6,"t":1000,"v":0.113},
      {"k":"P4","c":6,"t":0,"v":0},{"k":"P4","c":6,"t":130,"v":0.0003},{"k":"P4","c":6,"t":260,"v":0.001},{"k":"P4","c":6,"t":381,"v":0.0019},{"k":"P4","c":6,"t":450,"v":0.003},{"k":"P4","c":6,"t":512,"v":0.0043},{"k":"P4","c":6,"t":580,"v":0.0068},{"k":"P4","c":6,"t":642,"v":0.0092},{"k":"P4","c":6,"t":710,"v":0.0128},{"k":"P4","c":6,"t":773,"v":0.0162},{"k":"P4","c":6,"t":840,"v":0.0202},{"k":"P4","c":6,"t":903,"v":0.0245},{"k":"P4","c":6,"t":950,"v":0.027},{"k":"P4","c":6,"t":1000,"v":0.0296},
      {"k":"P5","c":6,"t":0,"v":0},{"k":"P5","c":6,"t":300,"v":0.0002},{"k":"P5","c":6,"t":500,"v":0.0009},{"k":"P5","c":6,"t":700,"v":0.0022},{"k":"P5","c":6,"t":900,"v":0.0038},{"k":"P5","c":6,"t":1000,"v":0.0053},
      {"k":"P2","c":12,"t":0,"v":0},{"k":"P2","c":12,"t":2,"v":0.02},{"k":"P2","c":12,"t":4.4,"v":0.0384},{"k":"P2","c":12,"t":8.4,"v":0.0421},{"k":"P2","c":12,"t":12,"v":0.0347},{"k":"P2","c":12,"t":16,"v":0.035},{"k":"P2","c":12,"t":19,"v":0.0366},{"k":"P2","c":12,"t":23,"v":0.043},{"k":"P2","c":12,"t":27,"v":0.0477},{"k":"P2","c":12,"t":31,"v":0.0485},{"k":"P2","c":12,"t":34,"v":0.0496},{"k":"P2","c":12,"t":39,"v":0.0514},{"k":"P2","c":12,"t":43,"v":0.054},{"k":"P2","c":12,"t":47,"v":0.057},{"k":"P2","c":12,"t":52,"v":0.061},{"k":"P2","c":12,"t":57,"v":0.0645},{"k":"P2","c":12,"t":61,"v":0.066},{"k":"P2","c":12,"t":64,"v":0.0682},{"k":"P2","c":12,"t":69,"v":0.073},{"k":"P2","c":12,"t":74,"v":0.0775},{"k":"P2","c":12,"t":79,"v":0.08},{"k":"P2","c":12,"t":84,"v":0.0831},{"k":"P2","c":12,"t":89,"v":0.0855},{"k":"P2","c":12,"t":94,"v":0.0887},{"k":"P2","c":12,"t":99,"v":0.092},{"k":"P2","c":12,"t":104,"v":0.0961},{"k":"P2","c":12,"t":112,"v":0.1},{"k":"P2","c":12,"t":119,"v":0.1054},{"k":"P2","c":12,"t":127,"v":0.11},{"k":"P2","c":12,"t":134,"v":0.1147},{"k":"P2","c":12,"t":142,"v":0.1195},{"k":"P2","c":12,"t":149,"v":0.124},{"k":"P2","c":12,"t":157,"v":0.1285},{"k":"P2","c":12,"t":164,"v":0.1333},{"k":"P2","c":12,"t":172,"v":0.137},{"k":"P2","c":12,"t":179,"v":0.1408},{"k":"P2","c":12,"t":187,"v":0.1455},{"k":"P2","c":12,"t":194,"v":0.1501},{"k":"P2","c":12,"t":202,"v":0.1538},{"k":"P2","c":12,"t":209,"v":0.1575},{"k":"P2","c":12,"t":217,"v":0.1612},{"k":"P2","c":12,"t":224,"v":0.165},{"k":"P2","c":12,"t":232,"v":0.1687},{"k":"P2","c":12,"t":239,"v":0.1724},{"k":"P2","c":12,"t":252,"v":0.178},{"k":"P2","c":12,"t":264,"v":0.1836},{"k":"P2","c":12,"t":277,"v":0.1892},{"k":"P2","c":12,"t":289,"v":0.1948},{"k":"P2","c":12,"t":302,"v":0.1995},{"k":"P2","c":12,"t":314,"v":0.2041},{"k":"P2","c":12,"t":327,"v":0.2078},{"k":"P2","c":12,"t":339,"v":0.2115},{"k":"P2","c":12,"t":352,"v":0.2152},{"k":"P2","c":12,"t":364,"v":0.2189},{"k":"P2","c":12,"t":377,"v":0.2227},{"k":"P2","c":12,"t":389,"v":0.2264},{"k":"P2","c":12,"t":402,"v":0.2297},{"k":"P2","c":12,"t":414,"v":0.2329},{"k":"P2","c":12,"t":427,"v":0.2362},{"k":"P2","c":12,"t":439,"v":0.2394},{"k":"P2","c":12,"t":452,"v":0.2422},{"k":"P2","c":12,"t":464,"v":0.245},{"k":"P2","c":12,"t":477,"v":0.2478},{"k":"P2","c":12,"t":489,"v":0.2506},{"k":"P2","c":12,"t":502,"v":0.2534},{"k":"P2","c":12,"t":514,"v":0.2562},{"k":"P2","c":12,"t":527,"v":0.259},{"k":"P2","c":12,"t":539,"v":0.2617},{"k":"P2","c":12,"t":552,"v":0.264},{"k":"P2","c":12,"t":564,"v":0.2664},{"k":"P2","c":12,"t":577,"v":0.2687},{"k":"P2","c":12,"t":589,"v":0.271},{"k":"P2","c":12,"t":602,"v":0.2733},{"k":"P2","c":12,"t":614,"v":0.2757},{"k":"P2","c":12,"t":624,"v":0.2776},{"k":"P2","c":12,"t":634,"v":0.2794},{"k":"P2","c":12,"t":660,"v":0.284},{"k":"P2","c":12,"t":700,"v":0.29},{"k":"P2","c":12,"t":800,"v":0.303},{"k":"P2","c":12,"t":1000,"v":0.32},
      {"k":"P3","c":12,"t":0,"v":0},{"k":"P3","c":12,"t":39,"v":0.0013},{"k":"P3","c":12,"t":89,"v":0.0049},{"k":"P3","c":12,"t":139,"v":0.0087},{"k":"P3","c":12,"t":189,"v":0.0152},{"k":"P3","c":12,"t":239,"v":0.0217},{"k":"P3","c":12,"t":289,"v":0.0282},{"k":"P3","c":12,"t":339,"v":0.0347},{"k":"P3","c":12,"t":389,"v":0.0421},{"k":"P3","c":12,"t":439,"v":0.0487},{"k":"P3","c":12,"t":489,"v":0.0552},{"k":"P3","c":12,"t":539,"v":0.0617},{"k":"P3","c":12,"t":589,"v":0.0682},{"k":"P3","c":12,"t":639,"v":0.0747},{"k":"P3","c":12,"t":689,"v":0.0812},{"k":"P3","c":12,"t":739,"v":0.0877},{"k":"P3","c":12,"t":773,"v":0.0915},{"k":"P3","c":12,"t":838,"v":0.0988},{"k":"P3","c":12,"t":903,"v":0.1059},{"k":"P3","c":12,"t":950,"v":0.1113},{"k":"P3","c":12,"t":1000,"v":0.1168},
      {"k":"P4","c":12,"t":0,"v":0},{"k":"P4","c":12,"t":120,"v":0.0003},{"k":"P4","c":12,"t":250,"v":0.0011},{"k":"P4","c":12,"t":381,"v":0.0023},{"k":"P4","c":12,"t":450,"v":0.0035},{"k":"P4","c":12,"t":512,"v":0.0053},{"k":"P4","c":12,"t":580,"v":0.008},{"k":"P4","c":12,"t":642,"v":0.0112},{"k":"P4","c":12,"t":710,"v":0.0148},{"k":"P4","c":12,"t":773,"v":0.0183},{"k":"P4","c":12,"t":840,"v":0.0225},{"k":"P4","c":12,"t":903,"v":0.0266},{"k":"P4","c":12,"t":950,"v":0.0296},{"k":"P4","c":12,"t":1000,"v":0.0325},
      {"k":"P5","c":12,"t":0,"v":0},{"k":"P5","c":12,"t":250,"v":0.0002},{"k":"P5","c":12,"t":381,"v":0.0008},{"k":"P5","c":12,"t":512,"v":0.0017},{"k":"P5","c":12,"t":642,"v":0.003},{"k":"P5","c":12,"t":773,"v":0.0047},{"k":"P5","c":12,"t":903,"v":0.0065},{"k":"P5","c":12,"t":1000,"v":0.0077},
      {"k":"P6","c":12,"t":0,"v":0},{"k":"P6","c":12,"t":500,"v":0.0002},{"k":"P6","c":12,"t":1000,"v":0.0012}
    ]
  },
  "columns": 2,
  "bounds": "flush",
  "spacing": {"row": 285, "column": 211},
  "resolve": {
    "scale": {"color": "independent", "strokeDash": "independent", "strokeWidth": "independent", "x": "independent", "y": "independent"},
    "legend": {"color": "independent", "strokeDash": "independent", "strokeWidth": "independent"}
  },
  "concat": [
    {
      "width": 1672,
      "height": 985,
      "title": {"text": "N = 20, M = 40 modes", "offset": 32},
      "data": {"name": "a"},
      "resolve": {"axis": {"x": "independent", "y": "independent"}},
      "layer": [
        {
          "transform": [{"filter": "datum.c == 3"}],
          "mark": {"type": "line", "clip": true},
          "encoding": {
            "x": {"field": "t", "type": "quantitative", "scale": {"domain": [0, 1000], "nice": false},
              "axis": {"orient": "bottom", "values": [500], "labels": false, "title": null}},
            "y": {"field": "v", "type": "quantitative", "scale": {"domain": [0, 0.28], "nice": false},
              "axis": {"orient": "left", "values": [0, 0.1, 0.2], "labelExpr": "datum.value == 0 ? '0' : format(datum.value, '.1f')", "title": "Populations"}},
            "detail": {"field": "k"},
            "color": {"field": "c", "type": "ordinal", "scale": {"domain": [3, 6, 12], "range": ["#ff0000", "#0072bd", "#000000"]},
              "legend": {"title": null, "orient": "top-right", "offset": 50, "symbolType": "stroke", "symbolSize": 88209, "clipHeight": 125, "rowPadding": 0, "padding": 17, "symbolOffset": 15, "labelOffset": 37, "labelExpr": "'χ = ' + datum.label", "labelFont": "Liberation Serif", "labelFontSize": 114, "labelColor": "#000000", "labelLimit": 1000, "strokeColor": "#262626", "fillColor": "#ffffff"}},
            "strokeDash": {"field": "c", "type": "ordinal", "scale": {"domain": [3, 6, 12], "range": [[1, 0], [13, 15], [1, 0]]}},
            "strokeWidth": {"field": "c", "type": "ordinal", "scale": {"domain": [3, 6, 12], "range": [8.9, 11.2, 9.8]}}
          }
        },
        {
          "transform": [{"filter": "datum.c == 6"}],
          "mark": {"type": "line", "clip": true},
          "encoding": {
            "x": {"field": "t", "type": "quantitative", "axis": {"orient": "top", "values": [500], "labels": false, "title": null}},
            "y": {"field": "v", "type": "quantitative", "axis": {"orient": "right", "values": [0.1, 0.2], "labels": false, "title": null}},
            "detail": {"field": "k"},
            "color": {"field": "c", "type": "ordinal"},
            "strokeDash": {"field": "c", "type": "ordinal"},
            "strokeWidth": {"field": "c", "type": "ordinal"}
          }
        },
        {
          "transform": [{"filter": "datum.c == 12"}],
          "mark": {"type": "line", "clip": true},
          "encoding": {
            "x": {"field": "t", "type": "quantitative", "axis": null},
            "y": {"field": "v", "type": "quantitative", "axis": null},
            "detail": {"field": "k"},
            "color": {"field": "c", "type": "ordinal"},
            "strokeDash": {"field": "c", "type": "ordinal"},
            "strokeWidth": {"field": "c", "type": "ordinal"}
          }
        },
        {
          "data": {"name": "labs"},
          "transform": [{"filter": "datum.p == 'a'"}],
          "mark": {"type": "text", "text": "P", "font": "Liberation Serif", "fontStyle": "italic", "fontSize": 105, "align": "left", "baseline": "alphabetic", "color": "#000000"},
          "encoding": {"x": {"field": "t", "type": "quantitative", "axis": null}, "y": {"field": "v", "type": "quantitative", "axis": null}}
        },
        {
          "data": {"name": "labs"},
          "transform": [{"filter": "datum.p == 'a'"}],
          "mark": {"type": "text", "font": "Liberation Serif", "fontSize": 73, "align": "left", "baseline": "alphabetic", "dx": 60, "dy": 17, "color": "#000000"},
          "encoding": {"x": {"field": "t", "type": "quantitative", "axis": null}, "y": {"field": "v", "type": "quantitative", "axis": null}, "text": {"field": "s"}}
        },
        {
          "data": {"name": "tags"},
          "transform": [{"filter": "datum.p == 'a'"}],
          "mark": {"type": "text", "font": "Liberation Sans", "fontSize": 103, "align": "center", "baseline": "middle", "color": "#000000"},
          "encoding": {"x": {"field": "t", "type": "quantitative", "axis": null}, "y": {"field": "v", "type": "quantitative", "axis": null}, "text": {"field": "txt"}}
        }
      ]
    },
    {
      "width": 1676,
      "height": 985,
      "title": {"text": "N = 10, M = 240 modes", "offset": 25},
      "data": {"name": "c"},
      "resolve": {"axis": {"x": "independent", "y": "independent"}},
      "layer": [
        {
          "transform": [{"filter": "datum.c == 3"}],
          "mark": {"type": "line", "clip": true},
          "encoding": {
            "x": {"field": "t", "type": "quantitative", "scale": {"domain": [0, 1000], "nice": false},
              "axis": {"orient": "bottom", "values": [500], "labels": false, "title": null}},
            "y": {"field": "v", "type": "quantitative", "scale": {"domain": [0, 0.28], "nice": false},
              "axis": {"orient": "left", "values": [0.1, 0.2], "labels": false, "title": null}},
            "detail": {"field": "k"},
            "color": {"field": "c", "type": "ordinal", "scale": {"domain": [3, 6], "range": ["#ff0000", "#000000"]},
              "legend": {"title": null, "orient": "top-right", "offset": 50, "symbolType": "stroke", "symbolSize": 88209, "clipHeight": 125, "rowPadding": 0, "padding": 17, "symbolOffset": 15, "labelOffset": 37, "labelExpr": "'χ = ' + datum.label", "labelFont": "Liberation Serif", "labelFontSize": 114, "labelColor": "#000000", "labelLimit": 1000, "strokeColor": "#262626", "fillColor": "#ffffff"}},
            "strokeDash": {"field": "c", "type": "ordinal", "scale": {"domain": [3, 6], "range": [[1, 0], [1, 0]]}},
            "strokeWidth": {"field": "c", "type": "ordinal", "scale": {"domain": [3, 6], "range": [8.9, 9.8]}}
          }
        },
        {
          "transform": [{"filter": "datum.c == 6"}],
          "mark": {"type": "line", "clip": true},
          "encoding": {
            "x": {"field": "t", "type": "quantitative", "axis": {"orient": "top", "values": [500], "labels": false, "title": null}},
            "y": {"field": "v", "type": "quantitative", "axis": {"orient": "right", "values": [0.1, 0.2], "labels": false, "title": null}},
            "detail": {"field": "k"},
            "color": {"field": "c", "type": "ordinal"},
            "strokeDash": {"field": "c", "type": "ordinal"},
            "strokeWidth": {"field": "c", "type": "ordinal"}
          }
        },
        {
          "data": {"name": "labs"},
          "transform": [{"filter": "datum.p == 'c'"}],
          "mark": {"type": "text", "text": "P", "font": "Liberation Serif", "fontStyle": "italic", "fontSize": 105, "align": "left", "baseline": "alphabetic", "color": "#000000"},
          "encoding": {"x": {"field": "t", "type": "quantitative", "axis": null}, "y": {"field": "v", "type": "quantitative", "axis": null}}
        },
        {
          "data": {"name": "labs"},
          "transform": [{"filter": "datum.p == 'c'"}],
          "mark": {"type": "text", "font": "Liberation Serif", "fontSize": 73, "align": "left", "baseline": "alphabetic", "dx": 60, "dy": 17, "color": "#000000"},
          "encoding": {"x": {"field": "t", "type": "quantitative", "axis": null}, "y": {"field": "v", "type": "quantitative", "axis": null}, "text": {"field": "s"}}
        },
        {
          "data": {"name": "tags"},
          "transform": [{"filter": "datum.p == 'c'"}],
          "mark": {"type": "text", "font": "Liberation Sans", "fontSize": 103, "align": "center", "baseline": "middle", "color": "#000000"},
          "encoding": {"x": {"field": "t", "type": "quantitative", "axis": null}, "y": {"field": "v", "type": "quantitative", "axis": null}, "text": {"field": "txt"}}
        }
      ]
    },
    {
      "width": 1676,
      "height": 987,
      "title": {"text": "N = 50, M = 100 modes", "offset": 19},
      "data": {"name": "b"},
      "resolve": {"axis": {"x": "independent", "y": "independent"}},
      "layer": [
        {
          "transform": [{"filter": "datum.c == 3"}],
          "mark": {"type": "line", "clip": true},
          "encoding": {
            "x": {"field": "t", "type": "quantitative", "scale": {"domain": [0, 1000], "nice": false},
              "axis": {"orient": "bottom", "values": [0, 500, 1000], "format": "d", "title": "Time(fs)"}},
            "y": {"field": "v", "type": "quantitative", "scale": {"domain": [0, 0.28], "nice": false},
              "axis": {"orient": "left", "values": [0, 0.1, 0.2], "labelExpr": "datum.value == 0 ? '0' : format(datum.value, '.1f')", "title": "Populations"}},
            "detail": {"field": "k"},
            "color": {"field": "c", "type": "ordinal", "scale": {"domain": [3, 6], "range": ["#ff0000", "#0072bd"]},
              "legend": {"title": null, "orient": "top-right", "offset": 50, "symbolType": "stroke", "symbolSize": 88209, "clipHeight": 125, "rowPadding": 0, "padding": 17, "symbolOffset": 15, "labelOffset": 37, "labelExpr": "'χ = ' + datum.label", "labelFont": "Liberation Serif", "labelFontSize": 114, "labelColor": "#000000", "labelLimit": 1000, "strokeColor": "#262626", "fillColor": "#ffffff"}},
            "strokeDash": {"field": "c", "type": "ordinal", "scale": {"domain": [3, 6], "range": [[1, 0], [13, 15]]}},
            "strokeWidth": {"field": "c", "type": "ordinal", "scale": {"domain": [3, 6], "range": [8.9, 11.2]}}
          }
        },
        {
          "transform": [{"filter": "datum.c == 6"}],
          "mark": {"type": "line", "clip": true},
          "encoding": {
            "x": {"field": "t", "type": "quantitative", "axis": {"orient": "top", "values": [500], "labels": false, "title": null}},
            "y": {"field": "v", "type": "quantitative", "axis": {"orient": "right", "values": [0.1, 0.2], "labels": false, "title": null}},
            "detail": {"field": "k"},
            "color": {"field": "c", "type": "ordinal"},
            "strokeDash": {"field": "c", "type": "ordinal"},
            "strokeWidth": {"field": "c", "type": "ordinal"}
          }
        },
        {
          "data": {"name": "labs"},
          "transform": [{"filter": "datum.p == 'b'"}],
          "mark": {"type": "text", "text": "P", "font": "Liberation Serif", "fontStyle": "italic", "fontSize": 105, "align": "left", "baseline": "alphabetic", "color": "#000000"},
          "encoding": {"x": {"field": "t", "type": "quantitative", "axis": null}, "y": {"field": "v", "type": "quantitative", "axis": null}}
        },
        {
          "data": {"name": "labs"},
          "transform": [{"filter": "datum.p == 'b'"}],
          "mark": {"type": "text", "font": "Liberation Serif", "fontSize": 73, "align": "left", "baseline": "alphabetic", "dx": 60, "dy": 17, "color": "#000000"},
          "encoding": {"x": {"field": "t", "type": "quantitative", "axis": null}, "y": {"field": "v", "type": "quantitative", "axis": null}, "text": {"field": "s"}}
        },
        {
          "data": {"name": "tags"},
          "transform": [{"filter": "datum.p == 'b'"}],
          "mark": {"type": "text", "font": "Liberation Sans", "fontSize": 103, "align": "center", "baseline": "middle", "color": "#000000"},
          "encoding": {"x": {"field": "t", "type": "quantitative", "axis": null}, "y": {"field": "v", "type": "quantitative", "axis": null}, "text": {"field": "txt"}}
        }
      ]
    },
    {
      "width": 1673,
      "height": 986,
      "title": {"text": "N = 10, M = 480 modes", "offset": 14},
      "data": {"name": "d"},
      "resolve": {"axis": {"x": "independent", "y": "independent"}},
      "layer": [
        {
          "transform": [{"filter": "datum.c == 3"}],
          "mark": {"type": "line", "clip": true},
          "encoding": {
            "x": {"field": "t", "type": "quantitative", "scale": {"domain": [0, 1000], "nice": false},
              "axis": {"orient": "bottom", "values": [0, 500, 1000], "format": "d", "title": "Time(fs)"}},
            "y": {"field": "v", "type": "quantitative", "scale": {"domain": [0, 0.28], "nice": false},
              "axis": {"orient": "left", "values": [0.1, 0.2], "labels": false, "title": null}},
            "detail": {"field": "k"},
            "color": {"field": "c", "type": "ordinal", "scale": {"domain": [3, 6, 12], "range": ["#ff0000", "#0072bd", "#000000"]},
              "legend": {"title": null, "orient": "top-right", "offset": 50, "symbolType": "stroke", "symbolSize": 88209, "clipHeight": 125, "rowPadding": 0, "padding": 17, "symbolOffset": 15, "labelOffset": 37, "labelExpr": "'χ = ' + datum.label", "labelFont": "Liberation Serif", "labelFontSize": 114, "labelColor": "#000000", "labelLimit": 1000, "strokeColor": "#262626", "fillColor": "#ffffff"}},
            "strokeDash": {"field": "c", "type": "ordinal", "scale": {"domain": [3, 6, 12], "range": [[1, 0], [13, 15], [1, 0]]}},
            "strokeWidth": {"field": "c", "type": "ordinal", "scale": {"domain": [3, 6, 12], "range": [8.9, 11.2, 9.8]}}
          }
        },
        {
          "transform": [{"filter": "datum.c == 6"}],
          "mark": {"type": "line", "clip": true},
          "encoding": {
            "x": {"field": "t", "type": "quantitative", "axis": {"orient": "top", "values": [500], "labels": false, "title": null}},
            "y": {"field": "v", "type": "quantitative", "axis": {"orient": "right", "values": [0.1, 0.2], "labels": false, "title": null}},
            "detail": {"field": "k"},
            "color": {"field": "c", "type": "ordinal"},
            "strokeDash": {"field": "c", "type": "ordinal"},
            "strokeWidth": {"field": "c", "type": "ordinal"}
          }
        },
        {
          "transform": [{"filter": "datum.c == 12"}],
          "mark": {"type": "line", "clip": true},
          "encoding": {
            "x": {"field": "t", "type": "quantitative", "axis": null},
            "y": {"field": "v", "type": "quantitative", "axis": null},
            "detail": {"field": "k"},
            "color": {"field": "c", "type": "ordinal"},
            "strokeDash": {"field": "c", "type": "ordinal"},
            "strokeWidth": {"field": "c", "type": "ordinal"}
          }
        },
        {
          "data": {"name": "labs"},
          "transform": [{"filter": "datum.p == 'd'"}],
          "mark": {"type": "text", "text": "P", "font": "Liberation Serif", "fontStyle": "italic", "fontSize": 105, "align": "left", "baseline": "alphabetic", "color": "#000000"},
          "encoding": {"x": {"field": "t", "type": "quantitative", "axis": null}, "y": {"field": "v", "type": "quantitative", "axis": null}}
        },
        {
          "data": {"name": "labs"},
          "transform": [{"filter": "datum.p == 'd'"}],
          "mark": {"type": "text", "font": "Liberation Serif", "fontSize": 73, "align": "left", "baseline": "alphabetic", "dx": 60, "dy": 17, "color": "#000000"},
          "encoding": {"x": {"field": "t", "type": "quantitative", "axis": null}, "y": {"field": "v", "type": "quantitative", "axis": null}, "text": {"field": "s"}}
        },
        {
          "data": {"name": "tags"},
          "transform": [{"filter": "datum.p == 'd'"}],
          "mark": {"type": "text", "font": "Liberation Sans", "fontSize": 103, "align": "center", "baseline": "middle", "color": "#000000"},
          "encoding": {"x": {"field": "t", "type": "quantitative", "axis": null}, "y": {"field": "v", "type": "quantitative", "axis": null}, "text": {"field": "txt"}}
        }
      ]
    }
  ]
}
